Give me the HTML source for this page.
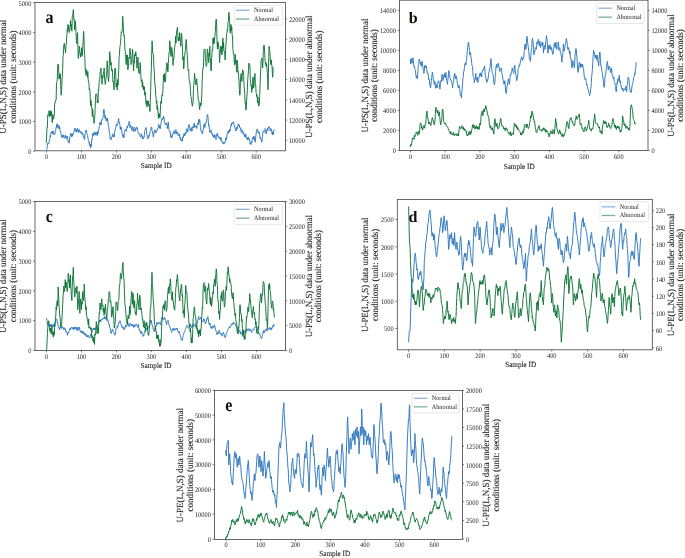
<!DOCTYPE html>
<html><head><meta charset="utf-8"><style>
html,body{margin:0;padding:0;background:#fff;width:685px;height:558px;overflow:hidden}
svg{display:block;will-change:transform}
text{font-family:"Liberation Serif", serif;fill:#262626;text-rendering:geometricPrecision}
.lb{stroke:#262626;stroke-width:0.1px}
</style></head><body>
<svg width="685" height="558" viewBox="0 0 685 558">
<clipPath id="ca"><rect x="35" y="2.5" width="250.5" height="148.3"/></clipPath>
<polyline clip-path="url(#ca)" points="46.87,149.66 47.18,146.88 47.49,143.17 47.79,143.22 48.1,143.01 48.41,143.72 48.71,144.14 49.02,142.62 49.33,139.76 49.63,139.54 49.94,138.65 50.25,135.53 50.55,136.78 50.86,134.21 51.17,131.91 51.47,132.19 51.78,132.36 52.09,131.4 52.39,134.03 52.7,131.01 53.01,131.33 53.31,131.27 53.62,131.32 53.93,134.1 54.23,134.95 54.54,134.15 54.84,134.21 55.15,132.19 55.46,131.35 55.76,130.07 56.07,127.59 56.38,128.03 56.68,124.65 56.99,123.91 57.3,123.76 57.6,127.27 57.91,125.75 58.22,125.13 58.52,128.58 58.83,128.51 59.14,128.83 59.44,125.89 59.75,127.59 60.06,130.29 60.36,131.77 60.67,131.27 60.98,133.36 61.28,135.36 61.59,135.87 61.9,137.55 62.2,134.89 62.51,136.78 62.81,136.28 63.12,135.58 63.43,134.95 63.73,137.34 64.04,138.13 64.35,137.7 64.65,138.22 64.96,136.24 65.27,134.95 65.57,137.9 65.88,138.2 66.19,138.62 66.49,138.86 66.8,136.21 67.11,136.78 67.41,136.25 67.72,138.24 68.03,141.38 68.33,141.38 68.64,140.87 68.95,143.22 69.25,142.55 69.56,139.19 69.87,136.78 70.17,136.12 70.48,134.89 70.78,133.11 71.09,135.13 71.4,135.51 71.7,136.78 72.01,133.68 72.32,136.26 72.62,134.03 72.93,134.81 73.24,133.43 73.54,133.11 73.85,132.34 74.16,131.97 74.46,130.35 74.77,128.13 75.08,130.78 75.38,129.43 75.69,129.26 76,129.39 76.3,132.19 76.61,129.93 76.92,130.74 77.22,128.51 77.53,128.13 77.84,131.4 78.14,131.27 78.45,132.75 78.76,130.01 79.06,129.43 79.37,129.83 79.67,131.17 79.98,132.19 80.29,132.69 80.59,132.75 80.9,131.27 81.21,132.7 81.51,133.73 81.82,134.03 82.13,132.47 82.43,133.09 82.74,134.95 83.05,134.48 83.35,137.24 83.66,136.78 83.97,136.84 84.27,138.92 84.58,139.54 84.89,134.95 85.19,132.71 85.5,132.19 85.81,130.56 86.11,131.72 86.42,130.35 86.73,132.73 87.03,134.19 87.34,134.95 87.64,135.56 87.95,138.08 88.26,139.54 88.56,140.61 88.87,141.85 89.18,143.22 89.48,142.16 89.79,146.18 90.1,145.06 90.4,144.04 90.71,147.78 91.02,145.98 91.32,146.06 91.63,140.18 91.94,140.46 92.24,137.83 92.55,136.97 92.86,133.11 93.16,135.78 93.47,134.11 93.78,134.95 94.08,133.01 94.39,131.83 94.7,132.19 95,135.07 95.31,132.75 95.61,134.95 95.92,134.69 96.23,132.14 96.53,133.11 96.84,133.52 97.15,135.71 97.45,134.03 97.76,131.49 98.07,133.6 98.37,131.27 98.68,129.47 98.99,129.29 99.29,125.75 99.6,125.42 99.91,122.12 100.21,122.07 100.52,124.74 100.83,123.85 101.13,124.83 101.44,121.21 101.75,119.58 102.05,120.23 102.36,119.58 102.67,118.79 102.97,118.39 103.28,114.46 103.58,110.68 103.89,109.2 104.2,110.96 104.5,113.29 104.81,116.55 105.12,118.66 105.42,115.59 105.73,118.39 106.04,120.11 106.34,121.11 106.65,120.23 106.96,117.95 107.26,120.88 107.57,118.39 107.88,121.78 108.18,125.06 108.49,125.75 108.8,127.28 109.1,130.09 109.41,133.11 109.72,134.47 110.02,138.98 110.33,138.62 110.64,139.32 110.94,138.62 111.25,139.54 111.56,138.31 111.86,136.72 112.17,136.78 112.47,134.18 112.78,133.81 113.09,134.95 113.39,137.03 113.7,135.23 114.01,136.78 114.31,136.86 114.62,132 114.93,131.27 115.23,129.01 115.54,128.86 115.85,127.59 116.15,125 116.46,124.58 116.77,123.91 117.07,125.61 117.38,124.99 117.69,122.99 117.99,122.83 118.3,120.5 118.61,118.39 118.91,121.44 119.22,122.78 119.53,122.07 119.83,124.74 120.14,127.94 120.44,129.43 120.75,126.83 121.06,129.22 121.36,127.59 121.67,129.52 121.98,132.99 122.28,134.03 122.59,135.89 122.9,135.54 123.2,137.7 123.51,134.8 123.82,137.74 124.12,134.95 124.43,131.47 124.74,131.14 125.04,129.43 125.35,129.35 125.66,129.76 125.96,131.27 126.27,131.09 126.58,130.91 126.88,127.59 127.19,126.23 127.5,127.66 127.8,126.67 128.11,124.87 128.41,125.08 128.72,123.91 129,122.07 129.27,121.15 129.64,122.91 130.01,127.59 130.38,125.18 130.74,125.75 131.11,126.3 131.48,129.43 131.79,130.29 132.09,127.58 132.4,126.67 132.71,126.66 133.01,130.91 133.32,130.35 133.63,131.61 133.93,128.29 134.24,127.59 134.55,127.23 134.85,128.69 135.16,131.27 135.47,128.85 135.77,129.35 136.08,129.43 136.38,127.02 136.69,127.05 137,127.59 137.3,127.75 137.61,130.35 137.92,131.27 138.22,133.58 138.53,133.59 138.84,133.11 139.14,133.64 139.45,134.57 139.76,135.87 140.06,136.28 140.37,135.94 140.68,136.78 140.98,135.46 141.29,133.63 141.6,134.95 141.9,134.89 142.21,138.84 142.52,137.7 142.82,136.37 143.13,138.33 143.44,138.62 143.74,137.97 144.05,137.77 144.35,134.95 144.66,131.86 144.97,130.26 145.27,129.43 145.58,127.71 145.89,127.76 146.19,127.59 146.5,129.8 146.81,134.49 147.11,134.95 147.42,137.71 147.73,139.04 148.03,138.62 148.34,135.91 148.65,135.34 148.95,136.78 149.26,136.17 149.57,135.46 149.87,132.19 150.18,131.46 150.49,131.34 150.79,130.35 151.1,127.23 151.41,128.03 151.71,127.59 152.02,130.69 152.33,131.47 152.63,131.27 152.94,134.67 153.24,137.02 153.55,136.78 153.86,134.15 154.16,132 154.47,132.19 154.78,130.05 155.08,131.06 155.39,130.35 155.7,131.46 156,132.9 156.31,131.27 156.62,131.63 156.92,130.69 157.23,129.43 157.54,129.98 157.84,128.01 158.15,127.59 158.46,127.2 158.76,124.34 159.07,125.75 159.38,127.91 159.69,126.41 160,128.51 160.31,128.82 160.61,126.08 160.92,123.91 161.23,121.82 161.53,119.82 161.84,120.23 162.15,118.53 162.45,119.61 162.76,118.39 163.07,118.96 163.37,116.07 163.68,117.47 163.99,117.12 164.29,120.65 164.6,122.07 164.9,123.36 165.21,123.42 165.52,124.83 165.82,123.31 166.13,124.66 166.44,123.91 166.74,123.29 167.05,126.1 167.36,128.51 167.66,126.19 167.97,126.24 168.28,122.07 168.58,125.47 168.89,129.28 169.2,130.35 169.5,131.16 169.81,131.02 170.12,133.11 170.42,132.91 170.73,136.97 171.04,135.87 171.34,137.38 171.65,136.24 171.96,137.7 172.26,134.37 172.57,135.24 172.87,134.03 173.18,133.87 173.49,131.83 173.79,131.27 174.1,130.81 174.41,133.23 174.71,133.11 175.02,134.06 175.33,130.07 175.63,130.35 175.94,129.52 176.25,132.09 176.55,134.03 176.86,133.06 177.17,133.6 177.47,132.19 177.78,131.78 178.09,135.33 178.39,134.95 178.7,135.69 179.01,134.35 179.31,134.03 179.62,133.96 179.93,138.55 180.23,137.7 180.54,137.49 180.84,140.34 181.15,139.54 181.46,138.97 181.76,139.54 182.07,141.38 182.38,141 182.68,137.42 182.99,136.78 183.3,137.85 183.6,134.93 183.91,134.03 184.22,133.26 184.52,134.03 184.83,135.87 185.14,134.27 185.44,134.14 185.75,132.19 186.06,133.24 186.36,128.79 186.67,129.43 186.98,129.57 187.28,129.39 187.59,131.27 187.9,132.13 188.2,127.24 188.51,127.59 188.81,125 189.12,124.43 189.43,125.75 189.73,126.81 190.04,130.57 190.35,130.35 190.65,131.12 190.96,129.53 191.27,127.59 191.57,130.7 191.88,131.33 192.19,130.35 192.49,128.37 192.8,126.51 193.11,126.67 193.41,127.67 193.72,125.91 194.03,123.91 194.33,123.08 194.64,127.09 194.95,127.59 195.25,126.44 195.56,125.81 195.87,125.75 196.17,125.93 196.48,126.13 196.78,128.51 197.09,124.79 197.4,124.47 197.7,123.91 198.01,122.64 198.32,124.69 198.62,122.07 198.93,119.5 199.24,122.27 199.54,119.31 199.85,120.78 200.16,124.2 200.46,127.59 200.77,130.23 201.08,131.46 201.38,131.27 201.69,131.89 202,131.12 202.3,134.03 202.61,132.38 202.92,130.4 203.22,129.43 203.53,129.43 203.84,124.4 204.14,123.91 204.45,124.23 204.76,127.5 205.06,126.67 205.37,123.07 205.67,123.21 205.98,122.07 206.29,122.22 206.59,120.79 206.9,118.39 207.18,114.53 207.45,114.71 207.76,115.12 208.07,117.69 208.37,122.07 208.68,126.07 208.99,125.29 209.29,128.51 209.6,130.82 209.9,132.71 210.21,132.19 210.52,130.87 210.82,129.96 211.13,130.35 211.44,133.59 211.74,133.31 212.05,134.03 212.36,133.59 212.66,136.21 212.97,135.87 213.28,135.67 213.58,136.1 213.89,137.7 214.2,134.6 214.5,136.99 214.81,134.95 215.12,138 215.42,137.99 215.73,138.62 216.04,139.65 216.34,134.69 216.65,135.87 216.96,133.77 217.26,133.92 217.57,133.11 217.88,136.34 218.18,137.56 218.49,136.78 218.79,136.9 219.1,136.92 219.41,138.62 219.71,138.01 220.02,137.98 220.33,137.7 220.63,140.2 220.94,137.54 221.25,139.54 221.55,141.49 221.86,141.82 222.17,141.38 222.47,143.11 222.78,143.2 223.09,142.3 223.39,143.39 223.7,142.77 224.01,144.14 224.31,142.73 224.62,142.31 224.93,142.3 225.23,142.63 225.54,138.61 225.85,139.54 226.15,137.6 226.46,139.43 226.76,137.7 227.07,135.37 227.38,133.34 227.68,134.03 227.99,131.36 228.3,133.03 228.6,132.19 228.91,130.5 229.22,132.46 229.52,129.43 229.83,130.81 230.14,130.96 230.44,128.51 230.75,126.55 231.06,124.84 231.36,125.75 231.67,123.05 231.98,123.9 232.28,122.99 232.59,123.61 232.9,122.14 233.2,122.07 233.51,121.82 233.82,123.54 234.12,124.83 234.43,126.28 234.73,127.44 235.04,127.59 235.35,129.6 235.65,130.95 235.96,130.35 236.27,130.46 236.57,127.45 236.88,128.51 237.19,129.09 237.49,125.76 237.8,125.75 238.11,125.43 238.41,123.96 238.72,123.91 239.03,126.18 239.33,125.04 239.64,127.59 239.95,127.09 240.25,127.69 240.56,129.43 240.87,128.52 241.17,132.34 241.48,131.27 241.79,131.31 242.09,129.89 242.4,130.35 242.7,130.5 243.01,133.74 243.32,132.19 243.62,133.45 243.93,133.46 244.24,135.87 244.54,136.61 244.85,135.31 245.16,134.03 245.46,137.11 245.77,134.12 246.08,136.78 246.38,136.98 246.69,138.8 247,137.7 247.3,139.51 247.61,140.14 247.92,138.62 248.22,136.91 248.53,138.33 248.84,139.54 249.14,138.48 249.45,139.4 249.76,141.38 250.06,144.08 250.37,142.98 250.68,143.22 250.98,144.5 251.29,141.43 251.59,141.38 251.9,142.38 252.21,139.93 252.51,139.54 252.82,137.57 253.13,138.93 253.43,136.78 253.74,139.36 254.05,136.28 254.35,138.62 254.66,140.27 254.97,141.6 255.27,142.3 255.58,137.99 255.89,135.59 256.19,133.11 256.5,130.3 256.81,129.35 257.11,129.43 257.42,129.27 257.73,131.7 258.03,132.19 258.34,133.16 258.65,131.5 258.95,133.11 259.26,132.18 259.56,134.8 259.87,136.78 260.18,138.49 260.48,137.24 260.79,139.54 261.1,139.64 261.4,140.08 261.71,142.3 262.02,141.15 262.32,137.61 262.63,134.95 262.94,131.8 263.24,130.74 263.55,131.27 263.86,131.11 264.16,132.1 264.47,132.19 264.78,131.88 265.08,128.55 265.39,129.43 265.7,129.48 266,133.35 266.31,134.03 266.62,132.1 266.92,130.01 267.23,129.43 267.53,128.27 267.84,130.81 268.15,128.51 268.45,127.07 268.76,127.57 269.07,126.67 269.37,126.96 269.68,128.14 269.99,129.43 270.29,130.72 270.6,131 270.91,128.51 271.21,129.14 271.52,129.63 271.83,132.19 272.13,134.11 272.44,132.72 272.75,134.95 273.05,131.55 273.36,134.26 273.67,131.27 274.03,130.01 274.4,129.43" fill="none" stroke="#2f78bd" stroke-width="0.95" stroke-linejoin="round"/>
<polyline clip-path="url(#ca)" points="46.24,142.86 46.63,135.03 47.01,127.24 47.39,127.53 47.77,114.87 48.15,114.29 48.48,115.26 48.8,113.76 49.13,110.61 49.46,116.55 49.78,117.01 50.12,111.12 50.46,115.53 50.8,110.82 51.14,115.65 51.48,111.76 51.82,116.78 52.16,122.63 52.5,119.73 52.84,114.53 53.18,115.05 53.52,119.22 53.86,117.01 54.27,115.58 54.68,103.4 55.04,103.42 55.41,100.35 55.77,100.68 56.13,100.05 56.49,82.54 56.86,81.63 57.22,80.04 57.58,67.32 57.95,63.95 58.31,64.67 58.67,69.34 59.03,78.91 59.4,74.8 59.76,79.08 60.12,73.47 60.49,76.89 60.85,88.96 61.21,95.24 61.57,90.56 61.94,81.01 62.3,76.19 62.66,69.51 63.02,56.43 63.39,54.42 63.75,45.51 64.11,43.64 64.48,43.54 64.84,48.88 65.2,49.02 65.56,53.06 65.93,45.84 66.29,44.11 66.65,38.1 66.99,34.13 67.33,28.89 67.67,31.42 68.01,24.49 68.35,28.92 68.69,25.5 69.03,31.51 69.37,32.65 69.74,28.87 70.1,28.99 70.46,20.41 70.83,26.34 71.19,24.21 71.55,29.93 71.91,31.16 72.28,16.28 72.64,16.33 73.05,11.94 73.46,9.52 73.82,19.41 74.18,18.95 74.54,29.93 74.91,27.99 75.27,20.77 75.63,24.49 76,32.86 76.36,40.36 76.72,43.54 77.13,38.97 77.54,32.65 77.95,50.08 78.35,58.5 78.72,52.19 79.08,52.68 79.44,46.26 79.8,51.02 80.17,54.47 80.53,57.14 80.89,53.44 81.26,54.87 81.62,47.62 82.03,56.36 82.44,54.42 82.8,46.4 83.16,40.97 83.52,31.29 83.89,33.73 84.25,49.13 84.61,54.42 84.98,61.63 85.34,71.22 85.7,70.75 86.04,75.29 86.38,69.52 86.72,71.42 87.06,73.47 87.42,77.31 87.79,71.37 88.15,78.91 88.51,82.08 88.88,82.18 89.24,89.8 89.6,88.83 89.96,91.76 90.33,100.68 90.67,105.94 91.01,100.31 91.35,103.77 91.69,108.84 92.01,109.17 92.34,116.57 92.67,108.71 92.99,114.76 93.32,117.01 93.68,118.51 94.05,123.42 94.41,119.73 94.77,116.3 95.13,109.58 95.5,97.96 95.86,93.94 96.22,94.22 96.59,93.88 96.95,94.45 97.31,103.02 97.67,100.68 98.04,102.54 98.4,89.24 98.76,89.8 99.12,82.28 99.49,79.32 99.85,78.91 100.21,72.08 100.58,71.47 100.94,68.03 101.3,74.54 101.66,76.06 102.03,84.35 102.39,75.68 102.75,77.94 103.12,76.19 103.48,71.9 103.84,71.54 104.2,68.03 104.57,78.91 104.93,81.2 105.29,84.35 105.66,80.91 106.02,78.51 106.38,73.47 106.74,71.96 107.11,60.86 107.47,62.59 107.83,73.73 108.2,78.64 108.56,81.63 108.92,76.15 109.28,65.25 109.65,51.7 110.01,54.94 110.37,59.56 110.73,65.31 111.1,62.36 111.46,70.55 111.82,70.75 112.19,69.12 112.55,72.81 112.91,81.63 113.27,80.86 113.64,83.02 114,89.8 114.36,80.62 114.73,69.91 115.09,68.03 115.45,68.38 115.81,76.54 116.18,87.07 116.54,83.2 116.9,87.25 117.27,89.8 117.63,79.57 117.99,85.22 118.35,76.19 118.72,70.3 119.08,57.46 119.44,54.42 119.8,47.82 120.17,45.33 120.53,43.54 120.89,38.28 121.26,31.76 121.62,32.65 121.98,31.4 122.34,27.69 122.71,16.33 123.07,22.27 123.43,28.83 123.8,35.37 124.16,34.94 124.52,39.67 124.88,48.98 125.25,51.63 125.61,55.23 125.97,62.59 126.34,64.72 126.7,54.89 127.06,57.14 127.42,55.05 127.79,69.81 128.15,68.03 128.51,65.19 128.88,57.44 129.24,58.5 129.6,56.75 129.96,48.29 130.33,51.7 130.69,55.67 131.05,64.7 131.41,62.59 131.78,62.41 132.14,55.87 132.5,48.98 132.87,53.37 133.23,61.89 133.59,70.75 133.95,61.31 134.32,63.13 134.68,54.42 135.04,53.91 135.41,55.96 135.77,51.7 136.13,55.1 136.49,59.26 136.86,68.03 137.22,68.14 137.58,66.59 137.95,57.14 138.31,66.82 138.67,71.7 139.03,73.47 139.4,73.66 139.76,69.09 140.12,62.59 140.49,65.66 140.85,75.5 141.21,81.63 141.57,81.71 141.94,79.61 142.3,87.07 142.66,82.32 143.02,86.24 143.39,89.8 143.75,86 144.11,90.29 144.48,87.07 144.84,95.27 145.2,91.88 145.56,95.24 145.93,102.3 146.29,104.72 146.65,100.68 147.02,107.05 147.38,100.87 147.74,103.4 148.1,100.95 148.47,101.94 148.83,106.12 149.19,104.3 149.56,106.2 149.92,111.56 150.28,101.26 150.64,92.79 151.01,76.19 151.37,68.48 151.73,52.36 152.1,40.82 152.46,47.19 152.82,53.48 153.18,54.42 153.55,54.88 153.91,67.23 154.27,70.75 154.63,81.11 155,85.02 155.36,87.07 155.72,95.52 156.09,97.7 156.45,103.4 156.79,100.9 157.13,109.59 157.47,105.47 157.81,108.84 158.15,114.49 158.49,118.59 158.83,113.72 159.17,117.01 159.54,113.56 159.9,117.83 160.27,112.9 160.63,103.98 161,101.19 161.36,103.4 161.77,95.13 162.18,95.24 162.54,95.56 162.9,89.85 163.27,81.63 163.63,74.67 163.99,80.11 164.35,73.47 164.72,81.95 165.08,80.8 165.44,81.63 165.8,74.4 166.17,71.33 166.53,65.31 166.89,62.69 167.26,63.11 167.62,70.75 167.98,71.86 168.34,63.47 168.71,57.14 169.07,52.02 169.43,51.46 169.8,40.82 170.16,44.56 170.52,54.35 170.88,54.42 171.25,56.52 171.61,47.33 171.97,48.98 172.34,51.44 172.7,57.38 173.06,65.31 173.42,58.56 173.79,59.09 174.15,54.42 174.51,47.91 174.88,46.19 175.24,43.54 175.6,36.39 175.96,43.02 176.33,35.37 176.69,30.9 177.05,29.43 177.41,27.21 177.78,32.75 178.14,41.13 178.5,40.82 178.87,37.14 179.23,40.39 179.59,32.65 179.95,37.21 180.32,42.11 180.68,46.26 181.04,42.91 181.41,33.23 181.77,35.37 182.13,42.82 182.49,47.9 182.86,59.86 183.22,56.63 183.58,68.9 183.95,68.03 184.31,58.65 184.67,56.82 185.03,51.7 185.4,50.32 185.76,44.22 186.12,39.46 186.49,42.36 186.85,49.65 187.21,54.42 187.57,60.53 187.94,68.72 188.3,70.75 188.66,69.65 189.02,78.73 189.39,81.63 189.75,81.34 190.11,84.4 190.48,89.8 190.84,96.69 191.2,97.14 191.56,100.68 191.97,104.14 192.38,106.12 192.74,103.8 193.11,100.19 193.47,89.8 193.83,83.67 194.2,80.26 194.56,73.47 194.92,77.16 195.28,80.87 195.65,84.35 196.01,84.85 196.37,80.15 196.73,78.91 197.1,83.85 197.46,87.72 197.82,92.52 198.19,100.54 198.55,100.35 198.91,100.68 199.27,107.01 199.64,109.61 200,106.12 200.36,102.78 200.73,105.93 201.09,104.76 201.45,102.37 201.81,93.42 202.18,81.63 202.54,72.74 202.9,68.02 203.27,68.03 203.63,60.98 203.99,50.2 204.35,48.98 204.72,49.04 205.08,50.21 205.44,58.5 205.8,62.8 206.17,66.45 206.53,65.31 206.89,64.63 207.26,50.28 207.62,48.98 207.98,56.11 208.34,59.97 208.71,62.59 209.07,52.86 209.43,56.29 209.8,46.26 210.16,60.03 210.52,59.22 210.88,70.75 211.25,70.74 211.61,58.64 211.97,54.42 212.34,48.83 212.7,49.42 213.06,38.1 213.42,43.9 213.79,37.66 214.15,43.54 214.51,39.09 214.88,36.47 215.24,32.65 215.6,26.19 215.96,19.93 216.33,19.05 216.69,26.85 217.05,41.67 217.41,48.98 217.78,41.4 218.14,46 218.5,43.54 218.87,49.17 219.23,50.45 219.59,62.59 219.95,55.12 220.32,53.19 220.68,46.26 221.04,49.13 221.41,46.47 221.77,54.42 222.13,54.8 222.49,47 222.86,38.1 223.22,48.29 223.58,42.42 223.95,51.7 224.31,51.61 224.67,51.62 225.03,59.86 225.4,57.77 225.76,46.22 226.12,43.54 226.49,34.56 226.85,33.53 227.21,29.93 227.62,30.79 228.03,21.77 228.44,20.83 228.84,12.24 229.21,15.24 229.57,19.83 229.93,29.93 230.29,33.15 230.66,27.15 231.02,24.49 231.38,30.52 231.75,26.82 232.11,35.37 232.47,35.51 232.83,48.52 233.2,51.7 233.56,54.43 233.92,53.83 234.29,62.59 234.65,65.12 235.01,58.76 235.37,54.42 235.74,63.48 236.1,60.31 236.46,70.75 236.83,72.3 237.19,60.11 237.55,62.59 237.91,71.47 238.28,71.1 238.64,76.19 239,80.61 239.37,89.53 239.73,95.24 240.09,94.01 240.45,79.75 240.82,76.19 241.18,73.56 241.54,80.14 241.9,81.63 242.27,74.87 242.63,69.69 242.99,70.75 243.36,72.13 243.72,76.24 244.08,87.07 244.44,88.94 244.81,95.7 245.17,103.4 245.53,102.88 245.9,110.14 246.26,108.84 246.62,99.97 246.98,96.15 247.35,89.8 247.71,79.58 248.07,75.26 248.44,70.75 248.8,63.15 249.16,64.13 249.52,65.31 249.89,64.93 250.25,78.99 250.61,81.63 250.98,85.87 251.34,85.16 251.7,92.52 252.06,87.68 252.43,88.66 252.79,78.91 253.15,76.91 253.51,88.18 253.88,87.07 254.24,81.73 254.6,77.94 254.97,73.47 255.33,83.83 255.69,84.88 256.05,92.52 256.42,93.5 256.78,96.58 257.14,95.24 257.51,102.84 257.87,96.98 258.23,100.68 258.59,106.03 258.96,105.88 259.32,104.76 259.68,96.87 260.05,84.57 260.41,76.19 260.77,68.92 261.13,59.96 261.5,59.86 261.86,58.14 262.22,60.15 262.59,68.03 262.95,63.66 263.31,50.58 263.67,46.26 264.04,44.94 264.4,46.71 264.76,54.42 265.12,61.24 265.49,64.31 265.85,62.59 266.21,66.45 266.58,63.6 266.94,68.03 267.3,72.19 267.66,80.06 268.03,89.8 268.39,74.8 268.75,56.66 269.12,46.26 269.48,49.24 269.84,50.67 270.2,57.14 270.57,63.59 270.93,64.63 271.29,59.86 271.66,64.96 272.02,65.87 272.38,73.47 272.74,77.24 273.11,67.56 273.47,68.03" fill="none" stroke="#0f7438" stroke-width="0.95" stroke-linejoin="round"/>
<rect x="35" y="2.5" width="250.5" height="148.3" fill="none" stroke="#444444" stroke-width="0.8"/>
<line x1="46.6" y1="150.8" x2="46.6" y2="152.6" stroke="#444444" stroke-width="0.7"/>
<text transform="translate(46.6,158.8) scale(1,1.1)" text-anchor="middle" font-size="6.4">0</text>
<line x1="81.53" y1="150.8" x2="81.53" y2="152.6" stroke="#444444" stroke-width="0.7"/>
<text transform="translate(81.53,158.8) scale(1,1.1)" text-anchor="middle" font-size="6.4">100</text>
<line x1="116.46" y1="150.8" x2="116.46" y2="152.6" stroke="#444444" stroke-width="0.7"/>
<text transform="translate(116.46,158.8) scale(1,1.1)" text-anchor="middle" font-size="6.4">200</text>
<line x1="151.39" y1="150.8" x2="151.39" y2="152.6" stroke="#444444" stroke-width="0.7"/>
<text transform="translate(151.39,158.8) scale(1,1.1)" text-anchor="middle" font-size="6.4">300</text>
<line x1="186.32" y1="150.8" x2="186.32" y2="152.6" stroke="#444444" stroke-width="0.7"/>
<text transform="translate(186.32,158.8) scale(1,1.1)" text-anchor="middle" font-size="6.4">400</text>
<line x1="221.25" y1="150.8" x2="221.25" y2="152.6" stroke="#444444" stroke-width="0.7"/>
<text transform="translate(221.25,158.8) scale(1,1.1)" text-anchor="middle" font-size="6.4">500</text>
<line x1="256.18" y1="150.8" x2="256.18" y2="152.6" stroke="#444444" stroke-width="0.7"/>
<text transform="translate(256.18,158.8) scale(1,1.1)" text-anchor="middle" font-size="6.4">600</text>
<line x1="33.1" y1="151.2" x2="35" y2="151.2" stroke="#444444" stroke-width="0.7"/>
<text transform="translate(31.4,154) scale(1,1.1)" text-anchor="end" font-size="6.4">0</text>
<line x1="33.1" y1="121.5" x2="35" y2="121.5" stroke="#444444" stroke-width="0.7"/>
<text transform="translate(31.4,124.3) scale(1,1.1)" text-anchor="end" font-size="6.4">1000</text>
<line x1="33.1" y1="91.8" x2="35" y2="91.8" stroke="#444444" stroke-width="0.7"/>
<text transform="translate(31.4,94.6) scale(1,1.1)" text-anchor="end" font-size="6.4">2000</text>
<line x1="33.1" y1="62.1" x2="35" y2="62.1" stroke="#444444" stroke-width="0.7"/>
<text transform="translate(31.4,64.9) scale(1,1.1)" text-anchor="end" font-size="6.4">3000</text>
<line x1="33.1" y1="32.4" x2="35" y2="32.4" stroke="#444444" stroke-width="0.7"/>
<text transform="translate(31.4,35.2) scale(1,1.1)" text-anchor="end" font-size="6.4">4000</text>
<line x1="33.1" y1="2.7" x2="35" y2="2.7" stroke="#444444" stroke-width="0.7"/>
<text transform="translate(31.4,5.5) scale(1,1.1)" text-anchor="end" font-size="6.4">5000</text>
<line x1="285.5" y1="140.3" x2="287.1" y2="140.3" stroke="#444444" stroke-width="0.7"/>
<text transform="translate(288.9,143.1) scale(1,1.1)" font-size="6.4">10000</text>
<line x1="285.5" y1="120.08" x2="287.1" y2="120.08" stroke="#444444" stroke-width="0.7"/>
<text transform="translate(288.9,122.88) scale(1,1.1)" font-size="6.4">12000</text>
<line x1="285.5" y1="99.86" x2="287.1" y2="99.86" stroke="#444444" stroke-width="0.7"/>
<text transform="translate(288.9,102.66) scale(1,1.1)" font-size="6.4">14000</text>
<line x1="285.5" y1="79.64" x2="287.1" y2="79.64" stroke="#444444" stroke-width="0.7"/>
<text transform="translate(288.9,82.44) scale(1,1.1)" font-size="6.4">16000</text>
<line x1="285.5" y1="59.42" x2="287.1" y2="59.42" stroke="#444444" stroke-width="0.7"/>
<text transform="translate(288.9,62.22) scale(1,1.1)" font-size="6.4">18000</text>
<line x1="285.5" y1="39.2" x2="287.1" y2="39.2" stroke="#444444" stroke-width="0.7"/>
<text transform="translate(288.9,42) scale(1,1.1)" font-size="6.4">20000</text>
<line x1="285.5" y1="18.98" x2="287.1" y2="18.98" stroke="#444444" stroke-width="0.7"/>
<text transform="translate(288.9,21.78) scale(1,1.1)" font-size="6.4">22000</text>
<text transform="translate(6.2,76.75) rotate(-90) scale(1,1.05)" class="lb" text-anchor="middle" font-size="8.95">U-PS(L,N,S) data under normal</text>
<text transform="translate(15.6,76.75) rotate(-90) scale(1,1.05)" class="lb" text-anchor="middle" font-size="8.95">conditions (unit: seconds)</text>
<text transform="translate(312.3,76.75) rotate(-90) scale(1,1.05)" class="lb" text-anchor="middle" font-size="8.95">U-PS(L,N,S) data under abnormal</text>
<text transform="translate(321.7,76.75) rotate(-90) scale(1,1.05)" class="lb" text-anchor="middle" font-size="8.95">conditions (unit: seconds)</text>
<text transform="translate(156.2,168.4) scale(1,1.1)" text-anchor="middle" font-size="7.2" class="lb">Sample ID</text>
<rect x="234.2" y="5.3" width="48.1" height="19.9" rx="1.2" fill="#fff" fill-opacity="0.8" stroke="#d8d8d8" stroke-width="0.6"/>
<line x1="236" y1="10.27" x2="249.5" y2="10.27" stroke="#2f78bd" stroke-width="1.3" stroke-opacity="0.55"/>
<line x1="236" y1="19.03" x2="249.5" y2="19.03" stroke="#0f7438" stroke-width="1.3" stroke-opacity="0.55"/>
<text transform="translate(254,12.17) scale(1,1.1)" font-size="6.2">Normal</text>
<text transform="translate(254,20.93) scale(1,1.1)" font-size="6.2">Abnormal</text>
<text transform="translate(45.6,22.8) scale(1,1.13)" font-size="16" font-weight="bold" style="fill:#150b0b">a</text>
<clipPath id="cb"><rect x="399.5" y="0.2" width="248.5" height="150.3"/></clipPath>
<polyline clip-path="url(#cb)" points="410.12,59.54 410.39,59.22 410.67,64.14 411.04,60.9 411.4,58.62 411.77,60.57 412.14,63.22 412.51,61.99 412.87,57.7 413.24,60.53 413.61,65.06 413.98,66.67 414.35,65.98 414.71,68.03 415.08,69.66 415.45,70.37 415.82,74.26 416.19,77.67 416.55,77.02 416.92,75.65 417.29,78.86 417.66,76.05 418.02,69.66 418.39,64.6 418.76,63.22 419.13,59.05 419.5,60.46 419.86,60.63 420.23,64.14 420.6,64.69 420.97,62.3 421.34,66.36 421.7,65.06 422.07,61.37 422.44,63.22 422.81,66.39 423.17,69.66 423.54,71.45 423.91,73.34 424.28,71.32 424.65,65.98 425.01,65.13 425.38,67.82 425.75,66.87 426.12,65.98 426.49,66.96 426.85,69.66 427.22,73.36 427.59,73.34 427.96,72.92 428.32,75.18 428.69,79.5 429.06,78.86 429.43,80.86 429.8,85.29 430.16,85.08 430.53,88.05 430.9,85.49 431.27,80.7 431.64,77.93 432,75.18 432.37,72.07 432.74,73.34 433.11,77.78 433.47,80.7 433.84,80.19 434.21,84.37 434.58,84.61 434.95,81.61 435.31,85.94 435.68,88.05 436.05,87.82 436.42,84.37 436.78,86.93 437.15,88.05 437.52,84.48 437.89,82.53 438.26,81.06 438.62,80.7 438.99,81.94 439.36,84.37 439.73,88.86 440.1,88.97 440.46,82.52 440.83,80.7 441.2,81.95 441.57,78.86 441.93,74.36 442.3,75.18 442.67,76.29 443.04,80.7 443.41,76.61 443.77,75.18 444.14,76.5 444.51,73.34 444.88,75.64 445.25,77.94 445.61,74.5 445.98,72.42 446.35,78.71 446.72,80.7 447.08,81.04 447.45,84.37 447.82,80.48 448.19,77.02 448.56,73.97 448.92,70.58 449.29,74.3 449.66,75.18 450.03,78.43 450.4,78.86 450.76,80.59 451.13,80.7 451.5,80.77 451.87,82.53 452.23,84.32 452.6,88.05 452.97,83.36 453.34,82.53 453.71,80.78 454.07,75.18 454.44,75.17 454.81,73.34 455.18,77.45 455.55,78.86 455.91,75.63 456.28,76.1 456.65,78.05 457.02,80.7 457.38,84.07 457.75,84.37 458.12,86.66 458.49,88.05 458.86,85.04 459.22,86.21 459.59,88.3 459.96,90.81 460.33,95.27 460.7,95.41 461.06,95.32 461.43,98.17 461.8,92.3 462.17,89.89 462.53,83.26 462.9,78.86 463.27,76.32 463.64,71.5 464.01,71.58 464.37,67.82 464.74,64.05 465.11,64.14 465.48,62.68 465.85,65.06 466.21,61.35 466.58,60.46 466.95,54.89 467.32,51.27 467.68,47.71 468.05,43.91 468.42,42.07 468.79,42.93 469.16,47.59 469.52,50.3 469.89,54.95 470.26,52.29 470.63,53.11 471,58.53 471.36,58.62 471.73,63.58 472.1,65.98 472.47,66.51 472.83,71.5 473.2,76.85 473.57,77.02 473.94,77.54 474.31,82.53 474.67,80.05 475.04,78.86 475.41,78.81 475.78,73.34 476.14,78.67 476.51,80.7 476.88,80.16 477.25,77.02 477.62,79.41 477.98,82.53 478.35,78.99 478.72,78.86 479.09,77.79 479.46,75.18 479.82,73.44 480.19,76.1 480.56,73.07 480.93,73.34 481.29,74.55 481.66,77.02 482.03,71.65 482.4,71.5 482.77,70.01 483.13,69.66 483.5,70.37 483.87,67.82 484.24,67.98 484.61,65.98 484.97,70.58 485.34,75.18 485.71,77.76 486.08,78.86 486.44,80.49 486.81,82.53 487.18,79.61 487.55,80.7 487.92,79.44 488.28,77.02 488.65,73.72 489.02,71.5 489.39,71.01 489.76,67.82 490.12,67.35 490.49,62.3 490.77,60.07 491.04,58.62 491.32,62.72 491.59,65.98 491.96,71.05 492.33,73.34 492.7,73.82 493.07,75.18 493.43,77.34 493.8,82.53 494.17,84.7 494.54,84.37 494.91,81.9 495.27,75.18 495.64,72.11 496.01,65.98 496.38,66.18 496.74,64.14 497.11,67.95 497.48,67.82 497.85,66.53 498.22,63.22 498.58,65.39 498.95,65.98 499.32,68.48 499.69,71.5 500.06,69.53 500.42,69.66 500.79,69.46 501.16,67.82 501.53,68.33 501.89,73.34 502.26,74.73 502.63,77.02 503,80.44 503.37,80.7 503.73,83.73 504.1,84.37 504.47,83.26 504.84,80.7 505.21,84.81 505.57,91.73 505.94,92.22 506.31,93.57 506.68,89.64 507.04,86.21 507.41,85.05 507.78,82.53 508.15,80.19 508.52,78.86 508.88,82.6 509.25,84.37 509.62,83.1 509.99,77.02 510.35,74.32 510.72,75.18 511.09,74.2 511.46,71.5 511.83,71.22 512.19,67.82 512.56,69.04 512.93,71.5 513.3,72.36 513.67,73.34 514.03,72.32 514.4,65.98 514.77,65.23 515.14,69.66 515.5,72.66 515.87,75.18 516.24,76.04 516.61,80.7 516.98,80.43 517.34,77.02 517.71,75.81 518.08,69.66 518.45,68.85 518.82,67.82 519.18,64.67 519.55,65.98 519.92,64.56 520.29,62.3 520.65,60.69 521.02,58.62 521.39,58.92 521.76,56.78 522.13,58.69 522.49,60.46 522.86,60.32 523.23,58.62 523.6,58.63 523.97,54.95 524.33,50.47 524.7,45.75 525.07,44.33 525.44,43.91 525.84,49.43 526.21,46.42 526.57,38.39 526.94,36.31 527.31,37.47 527.68,42.64 528.05,45.75 528.41,47.91 528.78,51.27 529.15,56.42 529.52,58.62 529.89,57.89 530.25,61.38 530.62,59.96 530.99,53.11 531.36,49.54 531.72,47.59 532.09,40.51 532.46,38.39 532.83,39.89 533.2,43.91 533.56,48.87 533.93,54.95 534.3,50.84 534.67,52.19 535.04,49.43 535.4,47.59 535.77,48.06 536.14,49.43 536.51,46.86 536.87,42.07 537.24,42.16 537.61,43.91 537.98,40.3 538.35,39.31 538.71,40.99 539.08,45.75 539.45,44.8 539.82,41.15 540.19,46.83 540.55,47.59 540.92,45.44 541.29,42.99 541.66,42.8 542.02,45.75 542.39,45.6 542.76,42.07 543.13,46.98 543.5,53.11 543.86,47.82 544.23,45.75 544.6,45.51 544.97,49.43 545.34,47.3 545.7,42.07 546.07,40.59 546.44,35.63 546.81,38.68 547.17,40.23 547.54,46.5 547.91,53.11 548.28,49.78 548.65,45.75 549.01,45.59 549.38,48.51 549.75,49.27 550.12,44.83 550.49,46.31 550.85,49.43 551.22,49.29 551.59,47.59 551.96,51.21 552.32,51.27 552.69,54.42 553.06,54.03 553.43,50.63 553.8,47.59 554.16,44.14 554.53,42.99 554.9,45.56 555.27,47.59 555.64,42.73 556,42.07 556.37,47.62 556.74,49.43 557.11,47.24 557.47,46.67 557.84,46.33 558.21,42.07 558.58,44.91 558.95,50.35 559.31,48.27 559.68,47.59 560.05,48.97 560.42,53.11 560.78,53.61 561.15,54.95 561.52,56.87 561.89,62.3 562.26,56.76 562.62,56.78 562.99,51.59 563.36,43.91 563.73,46.36 564.1,51.27 564.46,48 564.83,47.59 565.2,44.64 565.57,43.91 565.93,41.04 566.3,38.39 566.67,39.83 567.04,42.07 567.41,46.52 567.77,49.43 568.14,49.4 568.51,47.59 568.88,49.12 569.25,52.19 569.61,54.13 569.98,51.27 570.35,56.93 570.72,58.62 571.08,58.9 571.45,64.14 571.82,67.82 572.19,67.82 572.56,66.41 572.92,60.46 573.29,64.35 573.66,65.06 574.03,64.43 574.4,67.82 574.76,62.78 575.13,54.03 575.5,52.01 575.87,48.51 576.23,49.01 576.6,54.95 576.97,56.81 577.34,64.14 577.71,70.81 578.07,72.42 578.44,70.07 578.81,65.98 579.18,62.74 579.55,62.3 579.91,62.83 580.28,67.82 580.65,63.98 581.02,64.14 581.38,64.03 581.75,66.9 582.12,67.07 582.49,64.14 582.86,65.58 583.22,68.74 583.59,69.09 583.96,73.34 584.33,77.44 584.7,77.02 585.06,79.57 585.43,78.86 585.8,78.38 586.17,81.61 586.53,85.18 586.9,84.37 587.27,85.9 587.64,86.21 588.01,89.63 588.37,89.89 588.74,92.21 589.11,92.65 589.48,95.78 589.85,94.49 590.21,93.8 590.58,89.89 590.95,88.11 591.32,82.53 591.68,76.24 592.05,73.34 592.42,68.9 592.79,62.3 593.16,56.5 593.52,50.35 593.89,52.62 594.26,52.19 594.63,54.14 595,56.78 595.36,58.01 595.73,54.95 596.1,57.55 596.47,59.54 596.83,55.93 597.2,54.95 597.57,57.14 597.94,62.3 598.31,62.12 598.67,65.98 599.04,60.42 599.41,54.95 599.78,52.01 600.14,54.03 600.51,59.82 600.88,65.98 601.25,65.83 601.62,69.66 601.98,71.45 602.35,73.34 602.72,76.09 603.09,78.86 603.46,82.76 603.82,86.21 604.19,87.33 604.56,84.37 604.93,77.01 605.29,75.18 605.66,75.25 606.03,71.5 606.4,67.64 606.77,64.14 607.13,63.11 607.5,61.38 607.87,66.45 608.24,69.66 608.61,69.73 608.97,65.98 609.34,66.2 609.71,67.82 610.08,69.66 610.44,72.42 610.81,72.7 611.18,67.82 611.55,68.2 611.92,73.34 612.28,75.03 612.65,75.18 613.02,77.78 613.39,78.86 613.76,77.14 614.12,80.7 614.49,82.23 614.86,82.53 615.23,85.4 615.59,86.21 615.96,91.39 616.33,91.73 616.7,86.18 617.07,82.53 617.43,83.39 617.8,78.86 618.17,79.84 618.54,80.7 618.91,77.85 619.27,75.18 619.64,81.08 620.01,82.53 620.38,80.84 620.74,84.37 621.11,86.52 621.48,86.21 621.85,88.75 622.22,89.89 622.58,88.07 622.95,88.05 623.32,91.46 623.69,90.81 624.06,89.14 624.42,88.97 624.79,89.29 625.16,89.89 625.53,88.2 625.89,86.21 626.26,90.49 626.63,91.73 627,86.43 627.37,84.37 627.73,80.33 628.1,77.02 628.47,77.5 628.84,78.86 629.21,81.92 629.57,84.37 629.94,89.88 630.31,91.73 630.68,91.03 631.04,92.65 631.41,92.19 631.78,88.05 632.15,85.67 632.52,84.37 632.88,82.56 633.25,80.7 633.62,77.58 633.99,77.02 634.35,75.21 634.72,73.34 635.09,74.16 635.46,69.66 635.83,66.85 636.19,62.3" fill="none" stroke="#2f78bd" stroke-width="0.95" stroke-linejoin="round"/>
<polyline clip-path="url(#cb)" points="410.12,146.1 410.42,146.89 410.73,144.46 411.04,144.26 411.34,145.33 411.65,142.86 411.96,142.42 412.26,139.71 412.57,137.83 412.87,138.74 413.18,138.66 413.49,138.75 413.79,137.82 414.1,139.32 414.41,135.4 414.71,136.9 415.02,136.52 415.33,134.49 415.63,134.14 415.94,133.86 416.25,131.97 416.55,133.22 416.86,132.58 417.17,133.93 417.47,134.14 417.78,135.4 418.09,131.19 418.39,132.3 418.7,132.57 419.01,134.26 419.31,133.22 419.59,132.06 419.86,126.78 420.23,123.61 420.6,123.11 420.97,122.84 421.34,125.87 421.7,128.27 422.07,126.78 422.44,130.26 422.81,129.54 423.17,128.55 423.54,127.7 423.91,125.28 424.28,126.78 424.65,128.2 425.01,125.87 425.38,123.99 425.75,123.11 426.12,119.37 426.49,112.07 426.76,112.14 427.04,111.15 427.31,115.8 427.59,117.59 427.96,117.93 428.32,121.27 428.69,123.9 429.06,124.03 429.43,121.88 429.8,122.19 430.16,123.15 430.53,124.95 430.9,125.55 431.27,123.11 431.64,122.26 432,118.51 432.37,117.57 432.74,119.43 433.11,119.57 433.47,122.19 433.84,123.13 434.21,124.95 434.58,123.19 434.95,121.27 435.31,114.32 435.68,108.39 436.05,107.19 436.42,109.31 436.78,110.04 437.15,112.99 437.52,112.6 437.89,110.23 438.26,114.74 438.62,115.75 438.99,111.89 439.36,112.07 439.73,116.48 440.1,120.35 440.46,123.78 440.83,124.95 441.2,121.07 441.57,121.27 441.93,117.24 442.3,110.23 442.67,109.01 443.04,111.15 443.41,116.65 443.77,121.27 444.14,122.87 444.51,124.03 444.88,124.13 445.25,123.11 445.61,123.17 445.98,124.95 446.35,125.05 446.72,125.87 447.08,126.69 447.45,126.78 447.82,127.38 448.19,128.62 448.56,130.24 448.92,130.46 449.29,131.15 449.66,132.3 450.03,132.95 450.4,134.14 450.76,131.59 451.13,133.22 451.5,134.21 451.87,134.14 452.23,134.56 452.6,135.06 452.97,132.52 453.34,132.3 453.71,134.84 454.07,135.06 454.44,135.83 454.81,134.14 455.18,134.42 455.55,135.06 455.91,133.65 456.28,135.06 456.65,135.4 457.02,135.98 457.38,133.79 457.75,135.06 458.12,133.89 458.49,135.98 458.86,132 459.22,128.62 459.59,126.37 459.96,127.7 460.33,127.91 460.7,128.62 461.06,127.75 461.43,126.78 461.8,125.68 462.17,128.62 462.53,128.76 462.9,127.7 463.27,126.79 463.64,129.54 464.01,130.11 464.37,128.62 464.74,130.31 465.11,129.54 465.48,130.51 465.85,131.38 466.21,130.8 466.58,134.14 466.95,135.08 467.32,135.98 467.68,134.52 468.05,134.14 468.42,135.21 468.79,132.3 469.16,131.62 469.52,134.14 469.89,134.33 470.26,131.38 470.63,134.49 471,133.22 471.36,132.4 471.73,129.54 472.1,128.63 472.47,124.95 472.83,124.52 473.2,126.78 473.57,127.98 473.94,124.95 474.31,126.29 474.67,127.7 475.04,129.25 475.41,126.78 475.78,128.16 476.14,125.87 476.51,125.77 476.88,128.62 477.25,128.97 477.62,126.78 477.98,129.14 478.35,127.7 478.72,126.71 479.09,129.54 479.46,125.67 479.82,123.11 480.19,125.15 480.56,124.95 480.93,117.93 481.29,113.91 481.66,114.28 482.03,111.15 482.4,112.46 482.77,115.75 483.13,113.92 483.5,109.31 483.87,109.12 484.24,112.07 484.61,110.24 484.97,108.39 485.34,108.86 485.71,105.63 486.08,106.65 486.44,110.23 486.81,110.11 487.18,112.07 487.55,113.94 487.92,115.75 488.28,115.87 488.65,117.59 489.02,119.23 489.39,124.95 489.76,124.93 490.12,127.7 490.49,125.75 490.86,126.78 491.23,129.62 491.59,128.62 491.96,128.96 492.33,127.7 492.7,130.82 493.07,130.46 493.43,130.85 493.8,134.14 494.17,128.04 494.54,119.43 494.91,118.65 495.27,121.27 495.64,124.16 496.01,126.78 496.38,125.55 496.74,123.11 497.11,123.87 497.48,125.87 497.85,128.89 498.22,128.62 498.58,128.41 498.95,127.7 499.32,125.76 499.69,123.11 500.06,122.49 500.42,118.51 500.79,118.15 501.16,121.27 501.53,125.28 501.89,124.95 502.26,126.44 502.63,126.78 503,126.32 503.37,126.78 503.73,129.01 504.1,128.62 504.47,128.05 504.84,129.54 505.21,130.78 505.57,127.7 505.94,128.96 506.31,129.54 506.68,128.47 507.04,128.62 507.41,131.17 507.78,131.38 508.15,132.05 508.52,133.22 508.88,132.26 509.25,134.14 509.62,134.75 509.99,133.22 510.35,131.69 510.72,134.14 511.09,136.01 511.46,135.06 511.83,133.06 512.19,133.22 512.56,134.29 512.93,134.14 513.3,134.43 513.67,130.46 514.03,127.16 514.4,123.11 514.77,124.29 515.14,124.03 515.5,124.58 515.87,126.78 516.24,125.05 516.61,127.7 516.98,126.57 517.34,129.54 517.71,127.54 518.08,128.62 518.45,130.05 518.82,130.46 519.18,130.63 519.55,131.38 519.92,131.9 520.29,132.3 520.65,134.96 521.02,134.14 521.39,132.98 521.76,135.06 522.13,132.02 522.49,131.38 522.86,132.98 523.23,133.22 523.6,129.74 523.97,130.46 524.33,125.52 524.7,124.95 525.09,124.31 525.47,124.95 525.84,124.59 526.21,127.7 526.57,125.24 526.94,124.03 527.31,124.19 527.68,126.78 528.05,128.07 528.41,128.62 528.78,128.1 529.15,126.78 529.52,123.18 529.89,122.19 530.25,119.51 530.62,115.75 530.99,116.56 531.36,117.59 531.72,112.76 532.09,111.15 532.46,114.45 532.83,113.91 533.2,115.54 533.56,119.43 533.93,119.26 534.3,122.19 534.67,121.79 535.04,124.95 535.4,127.85 535.77,129.54 536.14,132.56 536.51,132.3 536.87,132.62 537.24,130.46 537.61,129.11 537.98,128.62 538.35,126.67 538.71,126.78 539.08,125.56 539.45,128.62 539.82,130.18 540.19,130.46 540.55,130.28 540.92,129.54 541.29,129.8 541.66,131.38 542.02,131.1 542.39,129.54 542.76,128.84 543.13,128.62 543.5,130.09 543.86,127.7 544.23,130.11 544.6,130.46 544.97,128.9 545.34,129.54 545.7,132.24 546.07,131.38 546.44,129.84 546.81,132.3 547.17,131.98 547.54,131.38 547.91,132.35 548.28,134.14 548.65,134.37 549.01,136.9 549.38,133.58 549.75,134.14 550.12,134.45 550.49,132.3 550.85,130.62 551.22,133.22 551.59,132.99 551.96,132.3 552.32,133.78 552.69,131.38 553.06,129.35 553.43,130.46 553.8,130.98 554.16,134.14 554.53,131.86 554.9,128.62 555.27,123.6 555.64,118.51 556,121.43 556.37,123.11 556.74,127.7 557.11,129.54 557.47,129.49 557.84,132.3 558.21,132.38 558.58,134.14 558.95,132.34 559.31,132.3 559.68,129.86 560.05,131.38 560.42,133.56 560.78,132.3 561.15,134.93 561.52,135.06 561.89,136.47 562.26,135.98 562.62,133.81 562.99,135.98 563.36,137.04 563.73,135.06 564.1,135.68 564.46,134.14 564.83,133.07 565.2,132.3 565.57,131.53 565.93,128.62 566.3,125.2 566.67,122.19 567.04,121.44 567.41,123.11 567.77,123.21 568.14,126.78 568.51,126.53 568.88,128.62 569.25,122.92 569.61,121.27 569.98,119.16 570.35,118.51 570.72,119.15 571.08,117.59 571.45,119.83 571.82,120.35 572.19,122.33 572.56,121.27 572.92,123.58 573.29,124.03 573.66,123.92 574.03,125.87 574.4,125.64 574.76,124.95 575.13,121.45 575.5,118.51 575.87,118.4 576.23,115.75 576.6,117.69 576.97,119.43 577.34,117.48 577.71,117.59 578.07,117.29 578.44,115.75 578.81,116.88 579.18,113.91 579.55,116.8 579.91,122.19 580.28,124.78 580.65,124.03 581.02,123.27 581.38,126.78 581.75,126.65 582.12,128.62 582.49,127.92 582.86,129.54 583.22,131.54 583.59,131.38 583.96,131.96 584.33,128.62 584.7,128.79 585.06,126.78 585.43,126.94 585.8,128.62 586.17,131.22 586.53,130.46 586.9,128.79 587.27,128.62 587.64,125.64 588.01,124.95 588.37,124.44 588.74,120.35 589.11,124.14 589.48,126.78 589.85,129.01 590.21,129.54 590.58,129.81 590.95,128.62 591.32,131.19 591.68,129.54 592.05,128.95 592.42,128.62 592.79,129.2 593.16,126.78 593.52,123.98 593.89,119.43 594.26,118.24 594.63,113.91 595,117.31 595.36,121.27 595.73,123.18 596.1,123.11 596.47,123.88 596.83,124.03 597.2,123.64 597.57,124.95 597.94,124.6 598.31,126.78 598.67,127.78 599.04,127.7 599.41,126.77 599.78,129.54 600.14,132.27 600.51,131.38 600.88,130.74 601.25,133.22 601.62,131.6 601.98,134.14 602.35,127.81 602.72,124.95 603.09,124.53 603.46,120.35 603.82,120.58 604.19,122.19 604.56,121.53 604.93,124.03 605.29,121.49 605.66,123.11 606.03,122.01 606.4,124.95 606.77,127.17 607.13,127.7 607.5,127.37 607.87,125.87 608.24,125.35 608.61,123.11 608.97,125.99 609.34,126.78 609.71,125.33 610.08,127.7 610.44,128.56 610.81,128.62 611.18,127.1 611.55,126.78 611.92,125.88 612.28,122.19 612.65,121.75 613.02,118.51 613.39,122.53 613.76,123.11 614.12,123.04 614.49,126.78 614.86,127.48 615.23,124.95 615.59,127.69 615.96,126.78 616.33,129.66 616.7,128.62 617.07,126.44 617.43,127.7 617.8,125.95 618.17,126.78 618.54,126 618.91,128.62 619.27,127.04 619.64,129.54 620.01,131.53 620.38,130.46 620.74,132.3 621.11,131.38 621.48,130.59 621.85,128.62 622.22,123.62 622.58,115.75 622.95,118.17 623.32,119.43 623.69,121.25 624.06,124.95 624.42,123.65 624.79,125.87 625.16,124.56 625.53,126.78 625.89,128.38 626.26,127.7 626.63,125.95 627,126.78 627.37,126.91 627.73,128.62 628.1,128.75 628.47,129.54 628.84,127.9 629.21,130.46 629.57,127.55 629.94,126.78 630.31,115.71 630.68,106.55 631.04,106.58 631.41,104.71 631.78,105.97 632.15,108.39 632.52,110.36 632.88,113.91 633.25,118.71 633.62,119.43 633.99,120.36 634.35,121.27 634.72,123.73 635.09,123.11 635.46,124.09 635.83,124.03" fill="none" stroke="#0f7438" stroke-width="0.95" stroke-linejoin="round"/>
<rect x="399.5" y="0.2" width="248.5" height="150.3" fill="none" stroke="#444444" stroke-width="0.8"/>
<line x1="410.5" y1="150.5" x2="410.5" y2="152.3" stroke="#444444" stroke-width="0.7"/>
<text transform="translate(410.5,158.5) scale(1,1.1)" text-anchor="middle" font-size="6.4">0</text>
<line x1="445.22" y1="150.5" x2="445.22" y2="152.3" stroke="#444444" stroke-width="0.7"/>
<text transform="translate(445.22,158.5) scale(1,1.1)" text-anchor="middle" font-size="6.4">100</text>
<line x1="479.94" y1="150.5" x2="479.94" y2="152.3" stroke="#444444" stroke-width="0.7"/>
<text transform="translate(479.94,158.5) scale(1,1.1)" text-anchor="middle" font-size="6.4">200</text>
<line x1="514.66" y1="150.5" x2="514.66" y2="152.3" stroke="#444444" stroke-width="0.7"/>
<text transform="translate(514.66,158.5) scale(1,1.1)" text-anchor="middle" font-size="6.4">300</text>
<line x1="549.38" y1="150.5" x2="549.38" y2="152.3" stroke="#444444" stroke-width="0.7"/>
<text transform="translate(549.38,158.5) scale(1,1.1)" text-anchor="middle" font-size="6.4">400</text>
<line x1="584.1" y1="150.5" x2="584.1" y2="152.3" stroke="#444444" stroke-width="0.7"/>
<text transform="translate(584.1,158.5) scale(1,1.1)" text-anchor="middle" font-size="6.4">500</text>
<line x1="618.82" y1="150.5" x2="618.82" y2="152.3" stroke="#444444" stroke-width="0.7"/>
<text transform="translate(618.82,158.5) scale(1,1.1)" text-anchor="middle" font-size="6.4">600</text>
<line x1="397.6" y1="150.4" x2="399.5" y2="150.4" stroke="#444444" stroke-width="0.7"/>
<text transform="translate(395.9,153.2) scale(1,1.1)" text-anchor="end" font-size="6.4">0</text>
<line x1="397.6" y1="130.4" x2="399.5" y2="130.4" stroke="#444444" stroke-width="0.7"/>
<text transform="translate(395.9,133.2) scale(1,1.1)" text-anchor="end" font-size="6.4">2000</text>
<line x1="397.6" y1="110.4" x2="399.5" y2="110.4" stroke="#444444" stroke-width="0.7"/>
<text transform="translate(395.9,113.2) scale(1,1.1)" text-anchor="end" font-size="6.4">4000</text>
<line x1="397.6" y1="90.4" x2="399.5" y2="90.4" stroke="#444444" stroke-width="0.7"/>
<text transform="translate(395.9,93.2) scale(1,1.1)" text-anchor="end" font-size="6.4">6000</text>
<line x1="397.6" y1="70.4" x2="399.5" y2="70.4" stroke="#444444" stroke-width="0.7"/>
<text transform="translate(395.9,73.2) scale(1,1.1)" text-anchor="end" font-size="6.4">8000</text>
<line x1="397.6" y1="50.4" x2="399.5" y2="50.4" stroke="#444444" stroke-width="0.7"/>
<text transform="translate(395.9,53.2) scale(1,1.1)" text-anchor="end" font-size="6.4">10000</text>
<line x1="397.6" y1="30.4" x2="399.5" y2="30.4" stroke="#444444" stroke-width="0.7"/>
<text transform="translate(395.9,33.2) scale(1,1.1)" text-anchor="end" font-size="6.4">12000</text>
<line x1="397.6" y1="10.4" x2="399.5" y2="10.4" stroke="#444444" stroke-width="0.7"/>
<text transform="translate(395.9,13.2) scale(1,1.1)" text-anchor="end" font-size="6.4">14000</text>
<line x1="648" y1="150.4" x2="649.6" y2="150.4" stroke="#444444" stroke-width="0.7"/>
<text transform="translate(651.4,153.2) scale(1,1.1)" font-size="6.4">0</text>
<line x1="648" y1="130.4" x2="649.6" y2="130.4" stroke="#444444" stroke-width="0.7"/>
<text transform="translate(651.4,133.2) scale(1,1.1)" font-size="6.4">2000</text>
<line x1="648" y1="110.4" x2="649.6" y2="110.4" stroke="#444444" stroke-width="0.7"/>
<text transform="translate(651.4,113.2) scale(1,1.1)" font-size="6.4">4000</text>
<line x1="648" y1="90.4" x2="649.6" y2="90.4" stroke="#444444" stroke-width="0.7"/>
<text transform="translate(651.4,93.2) scale(1,1.1)" font-size="6.4">6000</text>
<line x1="648" y1="70.4" x2="649.6" y2="70.4" stroke="#444444" stroke-width="0.7"/>
<text transform="translate(651.4,73.2) scale(1,1.1)" font-size="6.4">8000</text>
<line x1="648" y1="50.4" x2="649.6" y2="50.4" stroke="#444444" stroke-width="0.7"/>
<text transform="translate(651.4,53.2) scale(1,1.1)" font-size="6.4">10000</text>
<line x1="648" y1="30.4" x2="649.6" y2="30.4" stroke="#444444" stroke-width="0.7"/>
<text transform="translate(651.4,33.2) scale(1,1.1)" font-size="6.4">12000</text>
<line x1="648" y1="10.4" x2="649.6" y2="10.4" stroke="#444444" stroke-width="0.7"/>
<text transform="translate(651.4,13.2) scale(1,1.1)" font-size="6.4">14000</text>
<text transform="translate(367.7,75.55) rotate(-90) scale(1,1.05)" class="lb" text-anchor="middle" font-size="8.95">U-PS(L,N,S) data under normal</text>
<text transform="translate(377.1,75.55) rotate(-90) scale(1,1.05)" class="lb" text-anchor="middle" font-size="8.95">conditions (unit: seconds)</text>
<text transform="translate(673.8,75.55) rotate(-90) scale(1,1.05)" class="lb" text-anchor="middle" font-size="8.95">U-PS(L,N,S) data under abnormal</text>
<text transform="translate(682.7,75.55) rotate(-90) scale(1,1.05)" class="lb" text-anchor="middle" font-size="8.95">conditions (unit: seconds)</text>
<text transform="translate(519.1,168.6) scale(1,1.1)" text-anchor="middle" font-size="7.2" class="lb">Sample ID</text>
<rect x="596.6" y="3.1" width="47.5" height="20.4" rx="1.2" fill="#fff" fill-opacity="0.8" stroke="#d8d8d8" stroke-width="0.6"/>
<line x1="598.4" y1="8.2" x2="611.9" y2="8.2" stroke="#2f78bd" stroke-width="1.3" stroke-opacity="0.55"/>
<line x1="598.4" y1="17.18" x2="611.9" y2="17.18" stroke="#0f7438" stroke-width="1.3" stroke-opacity="0.55"/>
<text transform="translate(616.4,10.1) scale(1,1.1)" font-size="6.2">Normal</text>
<text transform="translate(616.4,19.08) scale(1,1.1)" font-size="6.2">Abnormal</text>
<text x="408.7" y="23.1" font-size="16" font-weight="bold" style="fill:#150b0b">b</text>
<clipPath id="cc"><rect x="35" y="201.5" width="250.5" height="149"/></clipPath>
<polyline clip-path="url(#cc)" points="46.31,317.96 46.68,318.84 47.04,320.69 47.41,324.29 47.77,324.34 48.14,325.22 48.5,322.52 48.87,325.87 49.23,326.17 49.6,325.18 49.96,327.08 50.33,324.95 50.69,324.34 51.06,326.68 51.42,326.17 51.79,324.12 52.15,325.26 52.52,326.98 52.88,327.08 53.25,324.97 53.61,324.34 53.98,326.98 54.34,326.17 54.71,322.6 55.07,322.52 55.44,322.25 55.8,319.78 56.17,318.75 56.53,318.87 56.9,319.4 57.26,322.52 57.63,322.09 57.99,325.26 58.36,327.36 58.72,327.08 59.09,328.54 59.45,329.82 59.82,327.77 60.18,327.99 60.55,326.85 60.91,326.17 61.28,328.56 61.64,327.99 62.01,326.52 62.37,327.08 62.74,327.79 63.1,327.99 63.47,327.6 63.83,329.82 64.2,327.75 64.56,327.99 64.93,329.42 65.29,328.91 65.66,331.04 66.02,331.64 66.39,331.01 66.75,332.55 67.12,332.41 67.48,335.29 67.85,332.89 68.21,333.47 68.58,332.95 68.94,331.64 69.31,330.26 69.67,328.91 70.04,328.55 70.4,329.82 70.77,327.85 71.13,327.99 71.5,327.94 71.86,327.08 72.23,328.74 72.59,328.91 72.96,329.11 73.32,327.08 73.69,328.75 74.05,329.82 74.42,327.83 74.78,327.99 75.15,326.89 75.51,328.91 75.88,328.83 76.24,327.08 76.61,328.57 76.97,330.73 77.34,330.16 77.7,327.99 78.07,327.3 78.43,329.82 78.8,329.57 79.16,327.08 79.53,327.86 79.89,329.82 80.26,331.96 80.62,331.64 80.99,332.5 81.35,330.73 81.72,331.62 82.08,332.55 82.45,331.27 82.81,333.47 83.18,334.03 83.54,331.64 83.91,332.93 84.27,334.38 84.64,335.26 85,333.47 85.36,333.54 85.73,335.29 86.09,334.62 86.46,336.2 86.82,336.94 87.19,335.29 87.55,335.73 87.92,337.12 88.28,335.45 88.65,336.2 89.01,336.65 89.38,338.03 89.74,337.91 90.11,337.12 90.47,334.42 90.84,335.29 91.2,334.45 91.57,333.47 91.93,332.36 92.3,331.64 92.66,330.33 93.03,328.91 93.39,328 93.76,329.82 94.12,329.68 94.49,327.99 94.85,329.59 95.22,328.91 95.58,329.31 95.95,327.08 96.31,326.89 96.68,327.99 97.04,327.84 97.41,326.17 97.77,324.83 98.14,324.34 98.5,324.34 98.87,322.52 99.23,320.03 99.6,320.69 99.96,321.58 100.33,319.78 100.69,321.87 101.06,320.69 101.42,319.76 101.79,318.87 102.15,319.37 102.52,319.78 102.88,318.98 103.25,317.96 103.61,318.55 103.98,318.87 104.34,316.23 104.71,317.04 105.07,319.18 105.44,317.96 105.8,317.42 106.17,318.87 106.53,318.64 106.9,320.69 107.26,318.81 107.63,319.78 107.99,320.25 108.36,322.52 108.72,324.57 109.09,324.34 109.45,324.48 109.82,327.99 110.18,328.36 110.55,331.64 110.91,333.27 111.28,333.47 111.64,331.46 112.01,331.64 112.37,328.99 112.74,329.82 113.1,331.09 113.47,331.64 113.83,332.83 114.2,333.47 114.56,334.46 114.93,335.29 115.29,334.2 115.66,331.64 116.02,328.39 116.39,327.99 116.75,328.41 117.12,326.17 117.48,327.41 117.85,327.08 118.21,324.07 118.58,324.34 118.94,322.07 119.31,322.52 119.67,321.58 120.04,320.69 120.4,322.06 120.77,323.43 121.13,324.01 121.5,326.17 121.86,325.72 122.23,327.99 122.59,327.2 122.96,327.08 123.32,327.14 123.69,329.82 124.05,329.24 124.42,327.99 124.78,328.38 125.15,326.17 125.51,325.35 125.88,327.08 126.24,326.43 126.61,325.26 126.97,325.69 127.34,324.34 127.7,322.22 128.07,322.52 128.43,325.52 128.8,326.17 129.16,326.83 129.53,324.34 129.89,323.49 130.26,323.43 130.62,324.06 130.99,325.26 131.35,326.02 131.72,324.34 132.08,325.35 132.45,326.17 132.81,324.88 133.18,324.34 133.54,327.3 133.91,327.08 134.27,327.16 134.64,325.26 135,325.13 135.36,326.17 135.73,324.32 136.09,324.34 136.46,324.21 136.82,325.26 137.19,325.94 137.55,327.08 137.92,327.44 138.28,324.34 138.65,327.26 139.01,327.99 139.38,330.39 139.74,329.82 140.11,331.86 140.47,331.64 140.84,333.81 141.2,333.47 141.57,331.4 141.93,332.55 142.3,333.53 142.66,334.38 143.03,336.48 143.39,335.29 143.76,335.94 144.12,333.47 144.49,331.65 144.85,331.64 145.22,329.99 145.58,328.91 145.95,329.84 146.31,329.82 146.68,328.42 147.04,327.99 147.41,328.56 147.77,328.91 148.14,326.44 148.5,327.08 148.87,326.38 149.23,326.17 149.6,324.82 149.96,323.43 150.33,320.79 150.69,321.61 151.06,319.85 151.42,320.69 151.79,324.21 152.15,324.34 152.52,326.25 152.88,326.17 153.25,329.57 153.61,329.82 153.98,331.21 154.34,331.64 154.71,330.93 155.07,327.99 155.44,328.46 155.8,326.17 156.17,326.64 156.53,324.34 156.9,322.21 157.26,323.43 157.63,324.4 157.99,324.34 158.36,322.59 158.72,322.52 159.09,323.62 159.45,323.43 159.77,322.52 160.09,323.39 160.41,324.67 160.74,323.05 161.1,321.65 161.47,319.37 161.84,317.56 162.21,317.53 162.57,318.53 162.94,319.37 163.31,318.68 163.68,318.45 164.05,319.62 164.41,317.53 164.78,317.69 165.15,319.37 165.52,319.59 165.89,321.21 166.25,323.58 166.62,324.89 166.99,321.69 167.36,321.21 167.72,321.09 168.09,320.29 168.46,323.77 168.83,323.97 169.2,325.4 169.56,326.73 169.93,326.36 170.3,327.65 170.67,328.91 171.04,330.41 171.4,331.45 171.77,332.25 172.14,329.6 172.51,329.49 172.87,328.6 173.24,330.41 173.61,328.16 173.98,328.57 174.35,328.75 174.71,330.41 175.08,329.61 175.45,329.49 175.82,328.27 176.19,328.57 176.55,328.11 176.92,329.49 177.29,328.47 177.66,330.41 178.02,331.5 178.39,332.25 178.76,333.01 179.13,331.33 179.5,333.1 179.86,334.09 180.23,335.26 180.6,335.93 180.97,338.31 181.34,339.61 181.7,338.99 182.07,340.53 182.44,339.9 182.81,337.77 183.17,335.79 183.54,334.09 183.91,333.34 184.28,332.25 184.65,331.73 185.01,330.41 185.38,329.38 185.75,328.57 186.12,326.97 186.49,326.73 186.85,325.34 187.22,325.81 187.59,325.73 187.96,327.65 188.32,328.15 188.69,328.57 189.06,327.23 189.43,326.73 189.8,326.58 190.16,325.81 190.53,324.51 190.9,326.73 191.27,326.66 191.64,327.65 192,327.57 192.37,324.89 192.74,324.87 193.11,326.73 193.47,325.56 193.84,323.97 194.21,324.4 194.58,324.89 194.95,325.04 195.31,326.73 195.68,327.11 196.05,323.97 196.42,322.78 196.78,323.05 197.15,323.57 197.52,322.13 197.89,319.06 198.26,318.45 198.62,316.43 198.99,317.53 199.36,319.79 199.73,319.37 200.1,318.7 200.46,318.45 200.83,317.34 201.2,319.37 201.57,319.89 201.93,321.21 202.3,321.46 202.67,322.13 203.04,321.6 203.41,319.37 203.77,318.43 204.14,320.29 204.51,319.76 204.88,321.21 205.25,323.79 205.61,323.05 205.98,322.99 206.35,321.21 206.72,319.05 207.08,319.37 207.45,317.41 207.82,316.61 208.19,318.38 208.56,321.21 208.92,323.68 209.29,324.89 209.66,324.39 210.03,323.05 210.4,326.61 210.76,327.65 211.13,328.35 211.5,326.73 211.87,327.71 212.23,328.57 212.6,328.05 212.97,325.81 213.34,327.61 213.71,327.65 214.07,327.21 214.44,324.89 214.81,326.18 215.18,327.65 215.55,330.06 215.91,330.41 216.28,332.08 216.65,332.25 217.02,334.66 217.38,334.09 217.75,332.29 218.12,333.17 218.49,333.58 218.86,331.33 219.22,330 219.59,332.25 219.96,334.12 220.33,334.09 220.7,333.94 221.06,333.17 221.43,334.08 221.8,335.01 222.17,336.21 222.53,334.09 222.9,333.43 223.27,332.25 223.64,332.87 224.01,334.09 224.37,336.03 224.74,335.93 225.11,337.73 225.48,336.85 225.85,335.85 226.21,334.09 226.58,332.73 226.95,332.25 227.32,331.16 227.68,330.41 228.05,329.34 228.42,328.57 228.79,328.45 229.16,326.73 229.52,326.45 229.89,327.65 230.26,326.8 230.63,326.73 231,325.55 231.36,323.97 231.73,324.02 232.1,324.89 232.47,323.33 232.83,323.05 233.2,323.63 233.57,322.13 233.94,323.85 234.31,323.05 234.67,323.51 235.04,323.97 235.41,324.69 235.78,325.81 236.14,325.59 236.51,327.65 236.88,327.86 237.25,329.49 237.62,329.13 237.98,331.33 238.35,332.06 238.72,332.25 239.09,331.62 239.46,330.41 239.82,329.85 240.19,332.25 240.56,334.22 240.93,333.17 241.29,332.07 241.66,332.25 242.03,334.4 242.4,334.09 242.77,334.39 243.13,332.25 243.5,334.36 243.87,333.17 244.24,331.18 244.61,331.33 244.97,331.52 245.34,332.25 245.71,332.81 246.08,330.41 246.44,329.11 246.81,331.33 247.18,328.78 247.55,329.49 247.92,330.18 248.28,330.41 248.65,329.48 249.02,328.57 249.39,331 249.76,330.41 250.12,330.93 250.49,329.49 250.86,330.55 251.23,331.33 251.59,332.66 251.96,330.41 252.33,330.01 252.7,329.49 253.07,330.01 253.43,330.41 253.8,330.16 254.17,328.57 254.54,327.71 254.91,327.65 255.27,326.68 255.64,326.73 256.01,326.61 256.38,325.81 256.74,326.19 257.11,327.65 257.48,330.18 257.85,329.49 258.22,331.5 258.58,332.25 258.95,333.26 259.32,334.09 259.69,333.56 260.06,335.93 260.42,336.39 260.79,337.77 261.16,337.87 261.53,338.69 261.89,337.53 262.26,335.93 262.63,334.35 263,332.25 263.37,332.7 263.73,330.41 264.1,333 264.47,332.25 264.84,330.82 265.21,329.49 265.57,329.73 265.94,330.41 266.31,329.94 266.68,328.57 267.04,331.28 267.41,330.41 267.78,329.39 268.15,329.49 268.52,329.14 268.88,328.57 269.25,329.25 269.62,327.65 269.99,327.38 270.35,329.49 270.72,327.92 271.09,327.65 271.46,329.83 271.83,328.57 272.19,328.36 272.56,325.81 272.93,326.32 273.3,326.73 273.67,324.41 274.03,324.89 274.4,325.81" fill="none" stroke="#2f78bd" stroke-width="0.95" stroke-linejoin="round"/>
<polyline clip-path="url(#cc)" points="46.31,349.89 46.68,349.74 47.04,342.59 47.41,333.26 47.77,327.99 48.14,322.15 48.5,320.69 48.87,321.02 49.23,326.17 49.6,329.94 49.96,331.64 50.33,331.44 50.69,327.99 51.06,334.14 51.42,333.47 51.79,326.12 52.15,329.82 52.52,334.31 52.88,333.47 53.25,337.18 53.61,331.64 53.98,334.01 54.34,335.29 54.71,325.33 55.07,326.17 55.44,318.3 55.8,315.22 56.17,306.56 56.53,309.74 56.9,302.45 57.26,300.55 57.63,306.09 57.9,301.57 58.18,286.93 58.45,294.17 58.72,298.8 59.09,306.17 59.45,309.74 59.82,316.86 60.18,317.04 60.55,326.52 60.91,326.17 61.28,326.6 61.64,324.34 62.01,318.44 62.37,309.74 62.74,303.97 63.1,295.15 63.47,292.94 63.83,286.02 64.2,289.91 64.56,291.5 64.84,287.74 65.11,279.64 65.38,280.29 65.66,287.85 66.02,287.11 66.39,282.37 66.75,286.43 67.12,291.5 67.48,291 67.85,284.2 68.12,273.94 68.39,273.25 68.67,273.99 68.94,282.37 69.31,279.55 69.67,287.85 70.04,284.75 70.4,275.07 70.77,288.25 71.13,291.5 71.5,297.93 71.86,300.62 72.23,287.19 72.59,276.9 72.96,276.02 73.32,267.41 73.69,280.15 74.05,286.02 74.42,292.24 74.78,296.97 75.15,289.5 75.51,287.85 75.88,288.21 76.24,293.32 76.61,288.73 76.97,286.02 77.34,295.7 77.7,309.74 78.07,305.26 78.43,302.45 78.8,298.67 79.16,291.5 79.53,307.65 79.89,313.39 80.26,300.75 80.62,298.8 80.99,305.08 81.35,309.74 81.72,301.48 82.08,304.27 82.45,293.31 82.81,291.5 83.18,299.78 83.54,300.62 83.91,293.31 84.27,284.2 84.64,296.52 85,298.8 85.36,303.63 85.73,309.74 86.09,306.65 86.46,315.22 86.82,315.69 87.19,318.87 87.55,320.88 87.92,320.69 88.28,325.03 88.65,318.87 89.01,328.29 89.38,326.17 89.74,326.79 90.11,327.99 90.47,327.85 90.84,329.82 91.2,327.78 91.57,335.29 91.93,337.94 92.3,337.12 92.66,335.49 93.03,340.77 93.39,337.5 93.76,342.59 94.12,337.69 94.49,344.42 94.85,333.91 95.22,335.29 95.58,333.85 95.95,327.99 96.31,321.63 96.68,324.34 97.04,333.59 97.41,331.64 97.77,327.61 98.14,333.47 98.5,331.51 98.87,320.69 99.23,312.59 99.6,313.39 99.96,303.05 100.33,304.27 100.69,309.64 101.06,309.74 101.42,301.18 101.79,298.8 102.15,305.25 102.52,306.09 102.88,305.08 103.25,311.57 103.61,308 103.98,315.22 104.34,314.86 104.71,307.92 105.07,308.66 105.44,304.27 105.8,313.1 106.17,313.39 106.53,318.89 106.9,318.87 107.26,309.32 107.63,309.74 107.99,305.81 108.36,298.8 108.72,297.66 109.09,291.5 109.45,291.94 109.82,293.32 110.18,302.16 110.55,300.62 110.91,301.32 111.28,307.92 111.64,317.14 112.01,315.22 112.37,314.18 112.74,307.92 113.1,306.62 113.47,317.04 113.83,316.7 114.2,327.99 114.56,327.98 114.93,324.34 115.29,321.76 115.66,311.57 116.02,301.96 116.39,302.45 116.75,302 117.12,306.09 117.48,310.67 117.85,309.74 118.21,301.17 118.58,300.62 118.94,298.57 119.31,287.85 119.67,284.95 120.04,282.37 120.4,273.44 120.77,275.07 121.13,275.31 121.5,278.72 121.86,275.06 122.23,269.6 122.59,265.21 122.96,262.3 123.32,271.72 123.69,276.9 124.05,279.94 124.42,291.5 124.78,302.36 125.15,306.09 125.51,308.1 125.88,313.39 126.24,318.78 126.61,320.69 126.97,324.07 127.34,324.34 127.7,318.8 128.07,315.22 128.43,315.67 128.8,318.87 129.16,315.92 129.53,306.09 129.89,315.08 130.26,313.39 130.62,309.51 130.99,298.8 131.35,295.95 131.72,291.5 132.08,295.39 132.45,304.27 132.81,293.52 133.18,293.32 133.54,306.31 133.91,307.92 134.27,306.71 134.64,300.62 135,310.94 135.36,313.39 135.73,312.29 136.09,315.22 136.46,311.01 136.82,304.27 137.19,304.52 137.55,293.32 137.92,300.95 138.28,300.62 138.65,306.4 139.01,309.74 139.38,300.15 139.74,295.15 140.11,297.94 140.47,302.45 140.84,309.84 141.2,307.92 141.57,310.09 141.93,315.22 142.3,319.26 142.66,318.87 143.03,322.83 143.39,324.34 143.76,327.27 144.12,320.69 144.49,328.03 144.85,327.99 145.22,327.22 145.58,331.64 145.95,322.93 146.31,326.17 146.68,322.41 147.04,324.34 147.41,327.06 147.77,331.64 148.14,334.51 148.5,335.29 148.87,335.43 149.23,327.99 149.6,328.08 149.96,318.87 150.33,307.9 150.69,307.92 151.06,301.88 151.42,287.85 151.7,283.83 151.97,272.34 152.34,284.5 152.7,287.85 153.07,296.01 153.43,302.45 153.8,306.12 154.16,315.22 154.53,324 154.89,324.34 155.26,329.85 155.62,327.99 155.99,332.03 156.35,331.64 156.72,338.43 157.08,335.29 157.45,335.28 157.81,338.94 158.18,334.87 158.54,340.77 158.91,342.32 159.27,342.59 159.64,346.33 160,339.34 160.37,346.11 160.74,343.28 161.1,342.95 161.47,332.25 161.84,322.62 162.21,319.37 162.57,314.22 162.94,306.5 163.31,307.71 163.68,304.66 164.05,307 164.41,310.18 164.78,302.06 165.15,300.98 165.52,300.8 165.89,306.5 166.25,311.35 166.62,310.18 166.99,308.16 167.36,299.14 167.72,294.06 168.09,289.95 168.46,286.84 168.83,293.62 169.2,292.71 169.56,284.43 169.93,284.94 170.3,278.91 170.67,282.14 171.04,291.78 171.4,296.42 171.77,299.14 172.14,300.23 172.51,291.78 172.87,301 173.24,300.98 173.61,304.92 173.98,308.34 174.35,308.98 174.71,310.18 175.08,304.81 175.45,297.3 175.82,288.05 176.19,286.27 176.55,279.82 176.92,280.75 177.29,274.62 177.66,276.15 178.02,284.54 178.39,288.11 178.76,291.06 179.13,297.3 179.5,299.92 179.86,300.98 180.23,294.29 180.6,289.95 180.97,287.39 181.34,284.43 181.7,285.73 182.07,295.46 182.44,294.6 182.81,304.66 183.17,313.38 183.54,310.18 183.91,312.34 184.28,317.53 184.65,305.45 185.01,302.82 185.38,295.68 185.75,285.35 186.12,292.01 186.49,291.78 186.85,292.26 187.22,300.98 187.59,306.75 187.96,310.18 188.32,312.91 188.69,319.37 189.06,323.29 189.43,326.73 189.8,323.74 190.16,332.25 190.53,328.49 190.9,335.93 191.27,342.73 191.64,337.77 192,343.08 192.37,339.61 192.74,329.33 193.11,319.37 193.47,316.5 193.84,312.02 194.21,306.86 194.58,307.42 194.95,314.91 195.31,315.7 195.68,317.57 196.05,321.21 196.42,328.41 196.78,324.89 197.15,329.94 197.52,328.57 197.89,333.32 198.26,330.41 198.62,336.89 198.99,332.25 199.36,330.22 199.73,334.09 200.1,329.46 200.46,335.93 200.83,328.66 201.2,328.57 201.57,318.3 201.93,315.7 202.3,307.02 202.67,308.34 203.04,291 203.41,284.43 203.77,284.2 204.14,282.59 204.51,291.63 204.88,291.78 205.25,288.53 205.61,286.27 205.98,298.99 206.35,300.98 206.72,304.06 207.08,297.3 207.45,288.39 207.82,289.95 208.19,287.9 208.56,283.51 208.92,286.42 209.29,291.78 209.66,291.82 210.03,300.98 210.4,304.65 210.76,297.3 211.13,298.99 211.5,306.5 211.87,303.59 212.23,299.14 212.6,297.15 212.97,291.78 213.34,293.58 213.71,284.43 214.07,283.71 214.44,278.91 214.81,281.31 215.18,286.27 215.55,279.21 215.91,273.39 216.28,268.85 216.65,272.47 217.02,284.04 217.38,284.43 217.75,298.61 218.12,300.98 218.49,304.08 218.86,313.86 219.22,311.08 219.59,319.37 219.96,311.85 220.33,310.18 220.7,301.04 221.06,295.46 221.43,298.46 221.8,291.78 222.17,301.24 222.53,300.98 222.9,299.51 223.27,289.95 223.64,290.03 224.01,300.98 224.37,307.18 224.74,306.5 225.11,301.66 225.48,291.78 225.85,290.79 226.21,286.27 226.58,290.25 226.95,282.59 227.32,272.66 227.68,273.39 228.05,266.83 228.42,268.79 228.79,275.07 229.16,275.23 229.52,282.34 229.89,278.91 230.26,282.87 230.63,282.59 231,283.85 231.36,289.95 231.73,294.72 232.1,297.3 232.47,298.56 232.83,293.62 233.2,292.57 233.57,300.98 233.94,303.47 234.31,310.18 234.67,310.02 235.04,315.7 235.41,313.02 235.78,319.37 236.14,321.91 236.51,324.89 236.88,324.59 237.25,332.25 237.62,330.03 237.98,334.09 238.35,327.05 238.72,328.57 239.09,325.18 239.46,317.53 239.82,305.25 240.19,304.66 240.56,311.86 240.93,313.86 241.29,313.88 241.66,321.21 242.03,319.32 242.4,328.57 242.77,336.46 243.13,334.09 243.5,329.81 243.87,332.25 244.24,339.3 244.61,335.93 244.97,339.41 245.34,334.09 245.71,334.15 246.08,324.89 246.44,316.89 246.81,317.53 247.18,315.06 247.55,313.86 247.92,307.18 248.28,310.18 248.65,311.64 249.02,302.82 249.39,302.33 249.76,293.62 250.12,298.84 250.49,300.98 250.86,305.01 251.23,310.18 251.59,311.01 251.96,315.7 252.33,317.73 252.7,312.02 253.07,308.99 253.43,306.5 253.8,311.72 254.17,313.86 254.54,312.33 254.91,319.37 255.27,318.79 255.64,324.89 256.01,321.41 256.38,328.57 256.74,332.97 257.11,332.25 257.48,333.81 257.85,334.09 258.22,327.07 258.58,328.57 258.95,323.82 259.32,310.18 259.69,302.78 260.06,300.98 260.42,296.24 260.79,293.62 261.16,294.09 261.53,302.82 261.89,296.4 262.26,295.46 262.63,294.02 263,284.43 263.37,281.52 263.73,282.59 264.1,283.2 264.47,291.78 264.84,297.19 265.21,302.82 265.57,305.24 265.94,312.02 266.31,320.53 266.68,319.37 267.04,319.34 267.41,328.57 267.78,321.44 268.15,302.82 268.52,288.31 268.88,284.43 269.25,288.71 269.62,283.51 269.99,289.67 270.35,291.78 270.72,294.76 271.09,304.66 271.46,306.23 271.83,308.34 272.19,302.09 272.56,300.98 272.93,302.67 273.3,310.18 273.67,308.44 274.03,313.86 274.4,317.53" fill="none" stroke="#0f7438" stroke-width="0.95" stroke-linejoin="round"/>
<rect x="35" y="201.5" width="250.5" height="149" fill="none" stroke="#444444" stroke-width="0.8"/>
<line x1="46.5" y1="350.5" x2="46.5" y2="352.3" stroke="#444444" stroke-width="0.7"/>
<text transform="translate(46.5,358.5) scale(1,1.1)" text-anchor="middle" font-size="6.4">0</text>
<line x1="81.47" y1="350.5" x2="81.47" y2="352.3" stroke="#444444" stroke-width="0.7"/>
<text transform="translate(81.47,358.5) scale(1,1.1)" text-anchor="middle" font-size="6.4">100</text>
<line x1="116.44" y1="350.5" x2="116.44" y2="352.3" stroke="#444444" stroke-width="0.7"/>
<text transform="translate(116.44,358.5) scale(1,1.1)" text-anchor="middle" font-size="6.4">200</text>
<line x1="151.41" y1="350.5" x2="151.41" y2="352.3" stroke="#444444" stroke-width="0.7"/>
<text transform="translate(151.41,358.5) scale(1,1.1)" text-anchor="middle" font-size="6.4">300</text>
<line x1="186.38" y1="350.5" x2="186.38" y2="352.3" stroke="#444444" stroke-width="0.7"/>
<text transform="translate(186.38,358.5) scale(1,1.1)" text-anchor="middle" font-size="6.4">400</text>
<line x1="221.35" y1="350.5" x2="221.35" y2="352.3" stroke="#444444" stroke-width="0.7"/>
<text transform="translate(221.35,358.5) scale(1,1.1)" text-anchor="middle" font-size="6.4">500</text>
<line x1="256.32" y1="350.5" x2="256.32" y2="352.3" stroke="#444444" stroke-width="0.7"/>
<text transform="translate(256.32,358.5) scale(1,1.1)" text-anchor="middle" font-size="6.4">600</text>
<line x1="33.1" y1="350.4" x2="35" y2="350.4" stroke="#444444" stroke-width="0.7"/>
<text transform="translate(31.4,353.2) scale(1,1.1)" text-anchor="end" font-size="6.4">0</text>
<line x1="33.1" y1="320.64" x2="35" y2="320.64" stroke="#444444" stroke-width="0.7"/>
<text transform="translate(31.4,323.44) scale(1,1.1)" text-anchor="end" font-size="6.4">1000</text>
<line x1="33.1" y1="290.88" x2="35" y2="290.88" stroke="#444444" stroke-width="0.7"/>
<text transform="translate(31.4,293.68) scale(1,1.1)" text-anchor="end" font-size="6.4">2000</text>
<line x1="33.1" y1="261.12" x2="35" y2="261.12" stroke="#444444" stroke-width="0.7"/>
<text transform="translate(31.4,263.92) scale(1,1.1)" text-anchor="end" font-size="6.4">3000</text>
<line x1="33.1" y1="231.36" x2="35" y2="231.36" stroke="#444444" stroke-width="0.7"/>
<text transform="translate(31.4,234.16) scale(1,1.1)" text-anchor="end" font-size="6.4">4000</text>
<line x1="33.1" y1="201.6" x2="35" y2="201.6" stroke="#444444" stroke-width="0.7"/>
<text transform="translate(31.4,204.4) scale(1,1.1)" text-anchor="end" font-size="6.4">5000</text>
<line x1="285.5" y1="350.4" x2="287.1" y2="350.4" stroke="#444444" stroke-width="0.7"/>
<text transform="translate(288.9,353.2) scale(1,1.1)" font-size="6.4">0</text>
<line x1="285.5" y1="325.6" x2="287.1" y2="325.6" stroke="#444444" stroke-width="0.7"/>
<text transform="translate(288.9,328.4) scale(1,1.1)" font-size="6.4">5000</text>
<line x1="285.5" y1="300.8" x2="287.1" y2="300.8" stroke="#444444" stroke-width="0.7"/>
<text transform="translate(288.9,303.6) scale(1,1.1)" font-size="6.4">10000</text>
<line x1="285.5" y1="276" x2="287.1" y2="276" stroke="#444444" stroke-width="0.7"/>
<text transform="translate(288.9,278.8) scale(1,1.1)" font-size="6.4">15000</text>
<line x1="285.5" y1="251.2" x2="287.1" y2="251.2" stroke="#444444" stroke-width="0.7"/>
<text transform="translate(288.9,254) scale(1,1.1)" font-size="6.4">20000</text>
<line x1="285.5" y1="226.4" x2="287.1" y2="226.4" stroke="#444444" stroke-width="0.7"/>
<text transform="translate(288.9,229.2) scale(1,1.1)" font-size="6.4">25000</text>
<line x1="285.5" y1="201.6" x2="287.1" y2="201.6" stroke="#444444" stroke-width="0.7"/>
<text transform="translate(288.9,204.4) scale(1,1.1)" font-size="6.4">30000</text>
<text transform="translate(6.2,276.15) rotate(-90) scale(1,1.05)" class="lb" text-anchor="middle" font-size="8.95">U-PS(L,N,S) data under normal</text>
<text transform="translate(15.6,276.15) rotate(-90) scale(1,1.05)" class="lb" text-anchor="middle" font-size="8.95">conditions (unit: seconds)</text>
<text transform="translate(312.2,276.15) rotate(-90) scale(1,1.05)" class="lb" text-anchor="middle" font-size="8.95">U-PS(L,N,S) data under abnormal</text>
<text transform="translate(321.4,276.15) rotate(-90) scale(1,1.05)" class="lb" text-anchor="middle" font-size="8.95">conditions (unit: seconds)</text>
<text transform="translate(156,367.5) scale(1,1.1)" text-anchor="middle" font-size="7.2" class="lb">Sample ID</text>
<rect x="234.2" y="204.3" width="48.1" height="20.1" rx="1.2" fill="#fff" fill-opacity="0.8" stroke="#d8d8d8" stroke-width="0.6"/>
<line x1="236" y1="209.33" x2="249.5" y2="209.33" stroke="#2f78bd" stroke-width="1.3" stroke-opacity="0.55"/>
<line x1="236" y1="218.17" x2="249.5" y2="218.17" stroke="#0f7438" stroke-width="1.3" stroke-opacity="0.55"/>
<text transform="translate(254,211.23) scale(1,1.1)" font-size="6.2">Normal</text>
<text transform="translate(254,220.07) scale(1,1.1)" font-size="6.2">Abnormal</text>
<text transform="translate(45.8,222) scale(1,1.1)" font-size="16" font-weight="bold" style="fill:#150b0b">c</text>
<clipPath id="cd"><rect x="397.3" y="199.5" width="255" height="150.3"/></clipPath>
<polyline clip-path="url(#cd)" points="408.6,342.2 409,334.7 409.3,331 409.7,331.42 410.1,330 410.5,316 410.8,306.7 411.2,297.4 411.6,288 412,278.7 412.35,281.37 412.7,282.4 413.05,281.49 413.4,275 413.8,268.1 414.13,264.71 414.47,257.78 414.8,255 415.3,253.2 415.7,256.22 416.1,262.5 416.45,263.94 416.8,270 417.2,268.83 417.6,273.7 417.9,278.7 418.3,279.51 418.7,276.8 419.05,277.12 419.4,273.1 419.8,272.75 420.2,275 420.55,271.09 420.9,271.2 421.3,275.83 421.7,278.7 422.05,282.76 422.4,282.4 422.8,288.88 423.2,289.9 423.55,282.18 423.9,278.7 424.3,260.7 424.66,257.83 425.03,251.32 425.4,248.76 425.77,241.97 426.15,241.66 426.52,238.24 426.9,234.33 427.27,232.63 427.64,225.94 428.02,223.29 428.39,222.57 428.76,217.68 429.14,213.73 429.51,212.08 429.79,210.3 430.07,210.21 430.35,214.27 430.63,217.68 431.01,221.52 431.38,227.03 431.75,233.82 432.13,236.37 432.5,232.83 432.87,232.63 433.25,233.43 433.62,240.11 434,237.73 434.37,234.5 434.74,240.93 435.12,245.71 435.49,250.56 435.86,251.32 436.24,255.44 436.61,256.92 436.99,254.84 437.36,247.58 437.73,248.56 438.11,243.84 438.48,240.07 438.85,236.37 439.23,234.5 439.6,232.63 439.97,227.64 440.35,227.03 440.72,221.07 441.1,217.68 441.47,220.07 441.84,221.42 442.22,224.34 442.59,232.63 442.96,231.03 443.34,227.03 443.71,219.27 444.09,215.82 444.46,219.19 444.83,223.29 445.21,230.03 445.58,230.76 445.95,225.33 446.33,225.16 446.7,220.35 447.07,221.42 447.45,226.64 447.82,232.63 448.2,239.06 448.57,249.45 448.94,247.14 449.32,241.97 449.69,235.06 450.06,234.5 450.44,238.55 450.81,238.24 451.19,237.71 451.56,232.63 451.93,240.07 452.31,243.84 452.68,240.56 453.05,238.24 453.43,240.59 453.8,245.71 454.17,240.21 454.55,232.63 454.92,238.33 455.3,243.84 455.67,246.14 456.04,249.45 456.42,244.68 456.79,241.97 457.16,244.38 457.54,247.58 457.91,250.51 458.29,251.32 458.66,255.27 459.03,255.05 459.41,253.9 459.78,247.58 460.15,239.83 460.53,236.37 460.9,238.8 461.28,243.84 461.65,251.89 462.02,260.66 462.4,265.74 462.77,270 463.14,266.23 463.52,264.4 463.89,257.78 464.26,255.05 464.64,253.33 465.01,256.92 465.39,253.93 465.76,253.19 466.13,256.67 466.51,260.66 466.88,260.87 467.25,255.05 467.63,252.06 468,243.84 468.38,244.31 468.75,240.11 469.12,244.08 469.5,241.97 469.87,247.73 470.24,247.58 470.62,253.02 470.99,256.92 471.36,261.72 471.74,262.53 472.11,261.58 472.49,266.26 472.86,257.12 473.23,245.71 473.61,237.07 473.98,227.03 474.35,228.53 474.73,232.63 475.1,234.96 475.48,236.37 475.85,235.53 476.22,228.9 476.6,225.97 476.97,223.29 477.34,223.3 477.72,221.42 478.09,225.74 478.46,232.63 478.84,235.37 479.21,240.11 479.59,236.03 479.96,227.03 480.33,228.68 480.71,236.37 481.08,239.05 481.45,245.71 481.83,249.66 482.2,251.32 482.58,251.91 482.95,253.19 483.32,247.73 483.7,247.58 484.07,246.74 484.44,243.84 484.82,238.35 485.19,234.5 485.57,232.21 485.94,228.9 486.31,224.62 486.69,221.42 487.06,227.22 487.43,232.63 487.81,238.65 488.18,243.84 488.55,245.05 488.93,247.58 489.3,248.85 489.68,255.05 490.05,251.14 490.42,251.32 490.8,251.94 491.17,247.58 491.54,251.62 491.92,255.05 492.29,246.97 492.67,243.84 493.04,241.49 493.41,234.5 493.79,226.38 494.16,221.42 494.53,215.09 494.91,213.95 495.28,217.88 495.65,221.42 496.03,226.37 496.4,234.5 496.78,230.7 497.15,227.03 497.52,232.04 497.9,236.37 498.27,238.36 498.64,243.84 499.02,246.18 499.39,247.58 499.77,239.5 500.14,236.37 500.51,229.91 500.89,223.29 501.26,227.59 501.63,230.76 502.01,226.21 502.38,227.03 502.75,224.57 503.13,223.29 503.5,225.23 503.88,232.63 504.25,229.44 504.62,227.03 505,226.55 505.37,221.42 505.74,218.01 506.12,213.95 506.49,212.05 506.87,207.41 507.24,214.19 507.61,217.68 507.99,219.89 508.36,227.03 508.73,234.84 509.11,236.37 509.48,243.39 509.86,247.58 510.23,239.43 510.6,236.37 510.98,233.81 511.35,227.03 511.72,229.14 512.1,232.63 512.47,234.27 512.84,240.11 513.22,246.79 513.59,247.58 513.97,249.85 514.34,251.32 514.71,255.88 515.09,256.92 515.46,258.33 515.83,264.4 516.21,264.3 516.58,260.66 516.96,253.16 517.33,251.32 517.7,245.9 518.08,243.84 518.45,240.22 518.82,238.24 519.2,237.94 519.57,243.84 519.94,246.32 520.32,247.58 520.69,244.81 521.07,245.71 521.44,248.17 521.81,253.19 522.19,257.32 522.56,258.79 522.93,261.12 523.31,264.4 523.68,268.75 524.06,268.13 524.4,265.17 524.75,260.66 525.12,259.3 525.49,253.19 525.87,267.6 526.24,281.21 526.62,277.34 526.99,268.13 527.36,266.77 527.74,260.66 528.11,255.73 528.48,255.05 528.86,252.89 529.23,247.58 529.61,244.7 529.98,243.84 530.35,241.79 530.73,236.37 531.1,233.79 531.47,228.9 531.85,236.58 532.22,240.11 532.59,242.36 532.97,249.45 533.34,251.44 533.72,255.05 534.09,251.9 534.46,245.71 534.84,242.04 535.21,232.63 535.58,230.31 535.96,225.16 536.33,225.97 536.71,232.63 537.08,238.9 537.45,243.84 537.83,245.02 538.2,251.32 538.57,248.83 538.95,245.71 539.32,249.52 539.7,249.45 540.07,246.04 540.44,247.58 540.82,248.43 541.19,243.84 541.56,248.7 541.94,251.32 542.31,254.42 542.68,260.66 543.06,261.5 543.43,266.26 543.81,260.32 544.18,255.05 544.55,252.55 544.93,245.71 545.3,241.56 545.67,236.37 546.05,232.03 546.42,232.63 546.8,227.7 547.17,228.9 547.54,222.67 547.92,221.42 548.29,221.01 548.66,216.75 549.04,218.94 549.41,225.16 549.78,227.37 550.16,228.9 550.53,223.81 550.91,221.42 551.28,218.88 551.65,213.95 552.03,209.92 552.4,207.41 552.77,210.27 553.15,217.68 553.52,224.76 553.9,227.03 554.27,229.14 554.64,230.76 555.02,234.78 555.39,236.37 555.76,236.47 556.14,232.63 556.51,238.31 556.88,238.24 557.26,237.93 557.63,243.84 558.01,245.64 558.38,249.45 558.75,241.61 559.13,238.24 559.5,240.12 559.87,241.97 560.25,248.1 560.62,249.45 561,254.17 561.37,255.05 561.74,250.21 562.12,251.32 562.49,253.02 562.86,258.79 563.24,262.7 563.61,262.53 563.99,259.94 564.36,255.05 564.73,250.63 565.11,247.58 565.48,245.56 565.85,243.84 566.23,245.39 566.6,251.32 566.97,246.05 567.35,236.37 567.72,239.42 568.1,243.84 568.47,249.97 568.84,251.32 569.22,253.89 569.59,255.05 569.96,254.21 570.34,258.79 570.71,253.96 571.09,251.32 571.46,246.7 571.83,245.71 572.21,245.43 572.58,240.11 572.95,235.07 573.33,228.9 573.7,222.24 574.07,221.42 574.45,214.64 574.82,212.08 575.2,215.86 575.57,221.42 575.94,225.89 576.32,230.76 576.69,233.13 577.06,234.5 577.44,236.59 577.81,240.11 578.19,242.91 578.56,247.58 578.93,248.16 579.31,255.05 579.68,250.89 580.05,245.71 580.43,239.98 580.8,236.37 581.17,228.63 581.55,227.03 581.92,223.03 582.3,219.55 582.67,221.73 583.04,217.68 583.42,219.45 583.79,227.03 584.16,222.89 584.54,223.29 584.91,226.25 585.29,227.03 585.66,227.44 586.03,230.76 586.41,231.18 586.78,234.5 587.15,237.3 587.53,240.11 587.9,242.32 588.28,247.58 588.65,249.89 589.02,251.32 589.4,248.69 589.77,245.71 590.14,243.96 590.52,236.37 590.89,237.65 591.26,232.63 591.64,232.45 592.01,238.24 592.39,240.49 592.76,241.97 593.13,245.58 593.51,245.71 593.88,247.16 594.25,243.84 594.63,248.4 595,249.45 595.38,254.04 595.75,256.92 596.12,260.59 596.5,262.53 596.87,262.58 597.24,264.4 597.62,263.93 597.99,266.26 598.36,270.02 598.74,270 599.11,275.19 599.49,275.61 599.86,271.87 600.23,262.53 600.61,258.08 600.98,251.32 601.35,246.33 601.73,243.84 602.1,241.79 602.48,236.37 602.85,243.51 603.22,247.58 603.6,252.31 603.97,256.92 604.34,254.98 604.72,251.32 605.09,246.62 605.46,243.84 605.84,242.3 606.21,240.11 606.59,237.64 606.96,236.37 607.33,229.82 607.71,228.9 608.08,226.92 608.45,227.03 608.83,229.63 609.2,234.5 609.58,240.43 609.95,240.11 610.32,243.72 610.7,247.58 611.07,244.86 611.44,243.84 611.82,239.4 612.19,238.24 612.57,233.74 612.94,232.63 613.31,229.8 613.69,228.9 614.06,232.17 614.43,240.11 614.81,241.62 615.18,249.45 615.55,257.43 615.93,260.66 616.3,266.9 616.68,273.74 617.05,268.72 617.42,264.4 617.8,260.16 618.17,255.05 618.54,249.12 618.92,245.71 619.29,238.92 619.67,236.37 620.04,228.92 620.41,227.03 620.79,223.89 621.16,223.29 621.53,228.6 621.91,236.37 622.28,244.36 622.65,249.45 623.03,245.11 623.4,240.11 623.78,241.04 624.15,236.37 624.52,233.48 624.9,232.63 625.27,233.46 625.64,228.9 626.02,233.17 626.39,236.37 626.77,238.35 627.14,245.71 627.51,248.33 627.89,255.05 628.26,266.78 628.63,277.48 629.01,274.99 629.38,266.26 629.75,262.55 630.13,260.66 630.5,259.61 630.88,255.05 631.25,252.73 631.62,251.32 632,255.54 632.37,255.05 632.74,251.35 633.12,253.19 633.49,255.89 633.87,258.79 634.24,259.48 634.61,255.05 634.99,246.15 635.36,240.11 635.73,234.82 636.11,232.63 636.48,234.25 636.86,241.97 637.23,242.63 637.6,247.58 637.98,251.7 638.35,258.79 638.72,263.84 639.1,266.26 639.47,256.99 639.84,251.32 640.22,244.13 640.59,238.24" fill="none" stroke="#2f78bd" stroke-width="0.95" stroke-linejoin="round"/>
<polyline clip-path="url(#cd)" points="408.6,206.5 409,221.4 409.3,236.4 409.7,244.37 410.1,247.6 410.5,260.7 411,273.7 411.29,277.33 411.57,278.68 411.95,288.03 412.32,293.63 412.7,297.37 413.07,295.5 413.44,299.24 413.82,293.63 414.19,297.37 414.56,302.1 414.94,302.97 415.31,304.98 415.68,301.11 416.06,304.84 416.43,303.91 416.81,300.16 417.18,297.37 417.55,291.57 417.93,289.9 418.3,290.5 418.67,293.63 419.05,300.24 419.42,306.71 419.8,301.14 420.17,295.5 420.54,290.83 420.92,289.9 421.29,286.12 421.66,286.16 422.04,290.68 422.41,293.63 422.78,302.66 423.16,310.45 423.53,306.76 423.91,304.84 424.28,304.07 424.65,297.37 425.03,296.32 425.4,293.63 425.77,289.02 426.15,289.9 426.52,290.3 426.9,291.76 427.27,295.36 427.64,295.5 428.02,293.41 428.39,293.63 428.76,296.64 429.14,297.37 429.51,293.46 429.88,295.5 430.26,298.06 430.63,302.97 431.01,302.22 431.38,297.37 431.75,298.82 432.13,299.24 432.5,298.38 432.87,295.5 433.25,294.61 433.62,297.37 434,295.49 434.37,293.63 434.74,292.55 435.12,290.83 435.49,288.49 435.86,288.96 436.24,289.37 436.61,288.03 436.99,289.15 437.36,289.9 437.73,291.48 438.11,287.09 438.48,288.01 438.85,288.03 439.23,288.43 439.6,289.9 439.97,289.49 440.35,293.63 440.72,294.38 441.1,299.24 441.47,303.6 441.84,304.84 442.22,305.29 442.59,310.45 442.96,314.59 443.34,323.53 443.71,319.68 444.09,319.79 444.46,318.06 444.83,316.05 445.21,318.93 445.58,317.92 445.95,313.93 446.33,308.58 446.7,306.68 447.07,301.11 447.45,304.08 447.82,312.32 448.2,311.26 448.57,316.05 448.94,319.55 449.32,319.79 449.69,315.92 450.06,314.19 450.44,317.35 450.81,317.92 451.19,319.85 451.56,323.53 451.93,319.68 452.31,319.79 452.68,319.32 453.05,321.66 453.43,317.39 453.8,317.92 454.17,321.28 454.55,319.79 454.92,322.15 455.3,323.53 455.67,318.88 456.04,316.05 456.42,306.41 456.79,297.37 457.16,291.08 457.54,286.16 457.91,282.55 458.29,284.29 458.66,288.5 459.03,288.03 459.41,292.26 459.78,295.5 460.15,301.06 460.53,301.11 460.9,304.48 461.28,308.58 461.65,301.83 462.02,293.63 462.4,290.26 462.77,289.9 463.14,283.42 463.52,282.42 463.89,281.27 464.26,274.95 464.64,276.14 465.01,273.08 465.39,274.77 465.76,278.68 466.13,282.95 466.51,282.42 466.88,286.19 467.25,286.16 467.63,294.32 468,304.84 468.38,299.85 468.75,293.63 469.12,293.59 469.5,288.03 469.87,285.2 470.24,282.42 470.62,281.38 470.99,274.95 471.36,272.47 471.74,273.08 472.11,275.22 472.49,278.68 472.86,281.86 473.23,282.42 473.61,282.62 473.98,286.16 474.35,290.62 474.73,297.37 475.1,312.7 475.48,323.53 475.85,318.76 476.22,314.19 476.6,313.14 476.97,308.58 477.34,304.24 477.72,302.97 478.09,296.34 478.46,293.63 478.84,289.98 479.21,288.03 479.59,282.41 479.96,280.55 480.33,284.32 480.71,282.42 481.08,282.1 481.45,284.29 481.83,282.79 482.2,280.55 482.58,280.11 482.95,284.29 483.32,280.76 483.7,276.82 484.07,275.2 484.44,274.95 484.82,278.1 485.19,282.42 485.57,287.29 485.94,297.37 486.31,298.85 486.69,304.84 487.06,304.93 487.43,301.11 487.81,297.41 488.18,295.5 488.55,291.17 488.93,289.9 489.3,289.91 489.68,293.63 490.05,298.87 490.42,306.71 490.8,310.74 491.17,317.92 491.54,314.2 491.92,316.05 492.29,313.3 492.67,308.58 493.04,308.56 493.41,310.45 493.79,311.19 494.16,316.05 494.53,310.75 494.91,302.97 495.28,294.92 495.65,291.76 496.03,286.64 496.4,284.29 496.78,287.23 497.15,286.16 497.52,288.6 497.9,295.5 498.27,291.42 498.64,288.03 499.02,290.98 499.39,289.9 499.77,289.86 500.14,286.16 500.51,289.72 500.89,297.37 501.26,301.16 501.63,306.71 502.01,311.78 502.38,314.19 502.75,307.84 503.13,302.97 503.5,301.05 503.88,293.63 504.25,289.08 504.62,288.03 505,287.93 505.37,282.42 505.74,281.52 506.12,280.55 506.49,282.65 506.87,288.03 507.24,290.55 507.61,293.63 507.99,295.15 508.36,301.11 508.73,305.15 509.11,306.71 509.48,306.21 509.86,308.58 510.23,314.71 510.6,316.05 510.98,318.45 511.35,319.79 511.72,314.33 512.1,310.45 512.47,305.19 512.84,302.97 513.22,305.49 513.59,306.71 513.97,309.66 514.34,316.05 514.71,317.35 515.09,314.19 515.46,306.32 515.83,302.97 516.21,300.25 516.58,297.37 516.96,294.82 517.33,291.76 517.7,297.86 518.08,306.71 518.45,313.95 518.82,317.92 519.2,315.36 519.57,314.19 519.94,312.33 520.32,308.58 520.69,312.72 521.07,316.05 521.44,312.12 521.81,310.45 522.19,307.92 522.56,306.71 522.93,299.56 523.31,297.37 523.68,292.63 524.06,291.76 524.4,291.07 524.75,286.16 525.12,284.15 525.49,284.29 525.87,291.81 526.24,297.37 526.62,299.69 526.99,306.71 527.36,310.82 527.74,314.19 528.11,317.09 528.48,321.66 528.86,314.19 529.23,306.71 529.61,298.95 529.98,293.63 530.35,292.9 530.73,297.37 531.1,301.84 531.47,308.58 531.85,311.61 532.22,317.92 532.59,316.61 532.97,319.79 533.34,322.96 533.72,323.53 534.09,324.09 534.46,327.26 534.84,328.55 535.21,331 535.58,325.98 535.96,316.05 536.33,311.16 536.71,302.97 537.08,304.34 537.45,301.11 537.83,307.94 538.2,310.45 538.57,301.7 538.95,297.37 539.32,294.16 539.7,293.63 540.07,292.68 540.44,297.37 540.82,290.04 541.19,280.55 541.56,288.07 541.94,293.63 542.31,296.48 542.68,301.11 543.06,302.45 543.43,304.84 543.81,297.39 544.18,288.03 544.55,287.35 544.93,284.29 545.3,278.11 545.67,274.95 546.05,274.23 546.42,269.34 546.8,267.52 547.17,267.47 547.54,270.12 547.92,271.21 548.29,268.37 548.66,269.34 549.04,269.84 549.41,274.95 549.78,280.23 550.16,280.55 550.53,285.69 550.91,288.03 551.28,296.78 551.65,302.97 552.03,295.55 552.4,293.63 552.77,297.41 553.15,306.71 553.52,307.49 553.9,312.32 554.27,306.77 554.64,304.84 555.02,309.27 555.39,316.05 555.76,312.54 556.14,310.45 556.51,311.42 556.88,317.92 557.26,310.25 557.63,304.84 558.01,307.54 558.38,308.58 558.75,310.39 559.13,316.05 559.5,319.96 559.87,319.79 560.25,323.01 560.62,325.4 561,335.1 561.37,342.21 561.74,335.14 562.12,331 562.49,324.07 562.86,317.92 563.24,310.62 563.61,301.11 563.99,293.66 564.36,288.03 564.73,280.36 565.11,278.68 565.48,278.82 565.85,274.95 566.23,281.28 566.6,284.29 566.97,276.47 567.35,271.21 567.72,266.6 568.1,267.47 568.47,282.68 568.84,293.63 569.22,289.61 569.59,284.29 569.96,278.77 570.34,278.68 570.71,276.22 571.09,276.82 571.46,276.35 571.83,280.55 572.21,284.17 572.58,284.29 572.95,292.83 573.33,304.84 573.7,301.72 574.07,293.63 574.45,297 574.82,297.37 575.2,296.75 575.57,301.11 575.94,298.54 576.32,293.63 576.69,295.8 577.06,299.24 577.44,296.99 577.81,291.76 578.19,290.93 578.56,286.16 578.93,281.11 579.31,278.68 579.68,280.9 580.05,288.03 580.43,288.84 580.8,284.29 581.17,287.57 581.55,291.76 581.92,293.41 582.3,289.9 582.67,294.78 583.04,297.37 583.42,300.67 583.79,301.11 584.16,305.89 584.54,306.71 584.91,308.41 585.29,308.58 585.66,312.03 586.03,316.05 586.41,317.12 586.78,323.53 587.15,328.92 587.53,331.94 587.9,326.37 588.28,321.66 588.65,318.93 589.02,316.05 589.4,317.69 589.77,314.19 590.14,309.15 590.52,308.58 590.89,306.41 591.26,301.11 591.64,293.7 592.01,291.76 592.39,288.31 592.76,282.42 593.13,279.58 593.51,273.08 593.88,273.51 594.25,276.82 594.63,278.03 595,278.68 595.38,284.3 595.75,284.29 596.12,291.65 596.5,297.37 596.87,289.22 597.24,280.55 597.62,276.25 597.99,274.95 598.36,274.17 598.74,278.68 599.11,278.77 599.49,280.55 599.86,285.63 600.23,291.76 600.61,294.64 600.98,301.11 601.35,298.1 601.73,297.37 602.1,293.32 602.48,293.63 602.85,299.55 603.22,302.97 603.6,302.13 603.97,299.24 604.34,301.4 604.72,306.71 605.09,307.03 605.46,310.45 605.84,312.41 606.21,314.19 606.59,316.66 606.96,319.79 607.33,323.34 607.71,321.66 608.08,315.16 608.45,310.45 608.83,302.71 609.2,297.37 609.58,304.35 609.95,306.71 610.32,308.3 610.7,314.19 611.07,306.16 611.44,297.37 611.82,294.5 612.19,293.63 612.57,300.2 612.94,302.97 613.31,300.46 613.69,297.37 614.06,303.6 614.43,306.71 614.81,296.32 615.18,289.9 615.55,289.03 615.93,286.16 616.3,284.88 616.68,282.42 617.05,281.25 617.42,280.55 617.8,284.95 618.17,286.16 618.54,292.82 618.92,295.5 619.29,291.32 619.67,291.76 620.04,288.63 620.41,288.03 620.79,291.86 621.16,297.37 621.53,304.02 621.91,314.19 622.28,312.48 622.65,316.05 623.03,307.27 623.4,301.11 623.78,295.55 624.15,293.63 624.52,291.11 624.9,286.16 625.27,291.45 625.64,297.37 626.02,301.59 626.39,310.45 626.77,305.66 627.14,302.97 627.51,299.98 627.89,297.37 628.26,297.48 628.63,299.24 629.01,295.38 629.38,295.5 629.75,296.67 630.13,302.97 630.5,304.71 630.88,312.32 631.25,307.8 631.62,297.37 632,295.13 632.37,289.9 632.74,285.53 633.12,286.16 633.49,285.59 633.87,282.42 634.24,283.43 634.61,278.68 634.99,281.87 635.36,284.29 635.73,283.81 636.11,288.03 636.48,288.89 636.86,289.9 637.23,290.44 637.6,291.76 637.98,292.71 638.35,297.37 638.72,301.36 639.1,304.84 639.47,302.83 639.84,306.71 640.22,315.77 640.59,319.79" fill="none" stroke="#0f7438" stroke-width="0.95" stroke-linejoin="round"/>
<rect x="397.3" y="199.5" width="255" height="150.3" fill="none" stroke="#444444" stroke-width="0.8"/>
<line x1="408.5" y1="349.8" x2="408.5" y2="351.6" stroke="#444444" stroke-width="0.7"/>
<text transform="translate(408.5,357.8) scale(1,1.1)" text-anchor="middle" font-size="6.4">0</text>
<line x1="444.32" y1="349.8" x2="444.32" y2="351.6" stroke="#444444" stroke-width="0.7"/>
<text transform="translate(444.32,357.8) scale(1,1.1)" text-anchor="middle" font-size="6.4">100</text>
<line x1="480.14" y1="349.8" x2="480.14" y2="351.6" stroke="#444444" stroke-width="0.7"/>
<text transform="translate(480.14,357.8) scale(1,1.1)" text-anchor="middle" font-size="6.4">200</text>
<line x1="515.96" y1="349.8" x2="515.96" y2="351.6" stroke="#444444" stroke-width="0.7"/>
<text transform="translate(515.96,357.8) scale(1,1.1)" text-anchor="middle" font-size="6.4">300</text>
<line x1="551.78" y1="349.8" x2="551.78" y2="351.6" stroke="#444444" stroke-width="0.7"/>
<text transform="translate(551.78,357.8) scale(1,1.1)" text-anchor="middle" font-size="6.4">400</text>
<line x1="587.6" y1="349.8" x2="587.6" y2="351.6" stroke="#444444" stroke-width="0.7"/>
<text transform="translate(587.6,357.8) scale(1,1.1)" text-anchor="middle" font-size="6.4">500</text>
<line x1="623.42" y1="349.8" x2="623.42" y2="351.6" stroke="#444444" stroke-width="0.7"/>
<text transform="translate(623.42,357.8) scale(1,1.1)" text-anchor="middle" font-size="6.4">600</text>
<line x1="395.4" y1="328.5" x2="397.3" y2="328.5" stroke="#444444" stroke-width="0.7"/>
<text transform="translate(393.7,331.3) scale(1,1.1)" text-anchor="end" font-size="6.4">500</text>
<line x1="395.4" y1="301.25" x2="397.3" y2="301.25" stroke="#444444" stroke-width="0.7"/>
<text transform="translate(393.7,304.05) scale(1,1.1)" text-anchor="end" font-size="6.4">1000</text>
<line x1="395.4" y1="274" x2="397.3" y2="274" stroke="#444444" stroke-width="0.7"/>
<text transform="translate(393.7,276.8) scale(1,1.1)" text-anchor="end" font-size="6.4">1500</text>
<line x1="395.4" y1="246.75" x2="397.3" y2="246.75" stroke="#444444" stroke-width="0.7"/>
<text transform="translate(393.7,249.55) scale(1,1.1)" text-anchor="end" font-size="6.4">2000</text>
<line x1="395.4" y1="219.5" x2="397.3" y2="219.5" stroke="#444444" stroke-width="0.7"/>
<text transform="translate(393.7,222.3) scale(1,1.1)" text-anchor="end" font-size="6.4">2500</text>
<line x1="652.3" y1="347.7" x2="653.9" y2="347.7" stroke="#444444" stroke-width="0.7"/>
<text transform="translate(655.7,350.5) scale(1,1.1)" font-size="6.4">60</text>
<line x1="652.3" y1="330.52" x2="653.9" y2="330.52" stroke="#444444" stroke-width="0.7"/>
<text transform="translate(655.7,333.32) scale(1,1.1)" font-size="6.4">80</text>
<line x1="652.3" y1="313.34" x2="653.9" y2="313.34" stroke="#444444" stroke-width="0.7"/>
<text transform="translate(655.7,316.14) scale(1,1.1)" font-size="6.4">100</text>
<line x1="652.3" y1="296.16" x2="653.9" y2="296.16" stroke="#444444" stroke-width="0.7"/>
<text transform="translate(655.7,298.96) scale(1,1.1)" font-size="6.4">120</text>
<line x1="652.3" y1="278.98" x2="653.9" y2="278.98" stroke="#444444" stroke-width="0.7"/>
<text transform="translate(655.7,281.78) scale(1,1.1)" font-size="6.4">140</text>
<line x1="652.3" y1="261.8" x2="653.9" y2="261.8" stroke="#444444" stroke-width="0.7"/>
<text transform="translate(655.7,264.6) scale(1,1.1)" font-size="6.4">160</text>
<line x1="652.3" y1="244.62" x2="653.9" y2="244.62" stroke="#444444" stroke-width="0.7"/>
<text transform="translate(655.7,247.42) scale(1,1.1)" font-size="6.4">180</text>
<line x1="652.3" y1="227.44" x2="653.9" y2="227.44" stroke="#444444" stroke-width="0.7"/>
<text transform="translate(655.7,230.24) scale(1,1.1)" font-size="6.4">200</text>
<line x1="652.3" y1="210.26" x2="653.9" y2="210.26" stroke="#444444" stroke-width="0.7"/>
<text transform="translate(655.7,213.06) scale(1,1.1)" font-size="6.4">220</text>
<text transform="translate(367.7,274.85) rotate(-90) scale(1,1.05)" class="lb" text-anchor="middle" font-size="8.95">U-PE(L,N,S) data under normal</text>
<text transform="translate(377.5,274.85) rotate(-90) scale(1,1.05)" class="lb" text-anchor="middle" font-size="8.95">conditions (unit: seconds)</text>
<text transform="translate(673.8,274.85) rotate(-90) scale(1,1.05)" class="lb" text-anchor="middle" font-size="8.95">U-PE(L,N,S) data under abnormal</text>
<text transform="translate(683,274.85) rotate(-90) scale(1,1.05)" class="lb" text-anchor="middle" font-size="8.95">conditions (unit: seconds)</text>
<text transform="translate(520.6,367.1) scale(1,1.1)" text-anchor="middle" font-size="7.2" class="lb">Sample ID</text>
<rect x="600" y="201.9" width="48.7" height="19.7" rx="1.2" fill="#fff" fill-opacity="0.8" stroke="#d8d8d8" stroke-width="0.6"/>
<line x1="601.8" y1="206.82" x2="615.3" y2="206.82" stroke="#2f78bd" stroke-width="1.3" stroke-opacity="0.55"/>
<line x1="601.8" y1="215.49" x2="615.3" y2="215.49" stroke="#0f7438" stroke-width="1.3" stroke-opacity="0.55"/>
<text transform="translate(619.8,208.72) scale(1,1.1)" font-size="6.2">Normal</text>
<text transform="translate(619.8,217.39) scale(1,1.1)" font-size="6.2">Abnormal</text>
<text x="408.6" y="222.1" font-size="16" font-weight="bold" style="fill:#150b0b">d</text>
<clipPath id="ce"><rect x="214.5" y="390.5" width="248" height="148.9"/></clipPath>
<polyline clip-path="url(#ce)" points="225.65,450.39 225.98,453.32 226.32,455.99 226.65,448.71 226.99,444.79 227.33,442.85 227.66,442.55 228,440.41 228.33,440.31 228.78,464.95 229.23,458.23 229.68,453.75 230.13,460.47 230.57,471.67 231.02,476.15 231.32,477.63 231.62,477.54 231.92,482.87 232.22,481.7 232.51,484.81 232.81,485.11 233.11,476.3 233.41,471.1 233.71,467.19 234.16,455.99 234.49,455.15 234.83,451.51 235.16,453.43 235.5,458.23 235.84,454.86 236.17,453.75 236.51,456.58 236.84,462.71 237.18,467.09 237.52,467.19 237.85,460.09 238.19,458.23 238.52,462.46 238.86,464.95 239.2,462.77 239.53,455.99 239.87,457.44 240.2,462.71 240.54,464.46 240.88,467.19 241.21,473.54 241.55,476.15 241.88,479.14 242.22,480.63 242.56,480.93 242.89,482.87 243.23,483.31 243.56,489.59 243.9,491.46 244.24,494.06 244.57,495.45 244.91,498.54 245.24,496.55 245.58,491.83 245.91,487.16 246.25,485.11 246.59,478.92 246.92,473.91 247.26,470.38 247.59,464.95 247.93,464.7 248.27,460.47 248.6,465.12 248.94,471.67 249.27,476.53 249.61,482.87 249.95,486.73 250.28,489.59 250.62,493.42 250.95,491.83 251.29,492.09 251.63,496.3 251.96,500.44 252.3,498.54 252.63,495.42 252.97,489.59 253.31,484.29 253.64,480.63 253.98,478.33 254.31,473.91 254.65,476.18 254.99,480.63 255.32,474.52 255.66,473.91 255.99,472.19 256.33,467.19 256.67,460.82 257,455.99 257.34,455.04 257.67,453.75 258.01,455.97 258.34,458.23 258.68,465.28 259.02,467.19 259.35,463.24 259.69,455.99 260.02,456.31 260.36,462.71 260.7,467.78 261.03,471.67 261.37,465.83 261.7,460.47 262.04,463.59 262.38,467.19 262.71,473.84 263.05,476.15 263.38,471.12 263.72,467.19 264.06,459.18 264.39,451.51 264.73,460.73 265.06,464.95 265.4,471.28 265.74,478.39 266.07,476.09 266.41,473.91 266.74,470.62 267.08,467.19 267.42,467.03 267.75,462.71 268.09,466.04 268.42,467.19 268.76,465.37 269.1,460.47 269.43,465.44 269.77,471.67 270.1,472.09 270.44,478.39 270.77,478.42 271.11,476.15 271.45,479.85 271.78,482.87 272.12,487.95 272.45,489.59 272.79,492.43 273.13,491.83 273.46,490.5 273.8,494.06 274.13,493.4 274.47,496.3 274.81,494.72 275.14,498.54 275.48,502.82 275.81,503.02 276.15,502.71 276.49,507.5 276.82,498.15 277.16,494.06 277.49,486.73 277.83,476.15 278.17,468.72 278.5,460.47 278.84,449.78 279.17,444.79 279.51,444.83 279.85,442.55 280.18,446.7 280.52,448.15 280.85,444.12 281.19,440.31 281.53,434.1 281.86,433.59 282.2,428.1 282.53,420.16 282.87,414.03 283.2,408.96 283.54,406.36 283.88,402.69 284.21,413.49 284.55,417.92 284.88,425.54 285.22,429.12 285.56,434.86 285.89,435.83 286.23,440.28 286.56,449.27 286.9,451.57 287.24,455.99 287.57,461.71 287.91,467.19 288.24,469.63 288.58,478.39 288.92,484.87 289.25,485.11 289.59,487.02 289.92,491.83 290.26,488.06 290.6,487.35 290.93,479.43 291.27,473.91 291.6,466.74 291.94,462.71 292.28,462.77 292.61,458.23 292.95,463.07 293.28,467.19 293.62,471.74 293.96,476.15 294.29,476.76 294.63,478.39 294.96,471.04 295.3,469.43 295.63,470.42 295.97,473.91 296.31,472.9 296.64,467.19 296.98,462.4 297.31,453.75 297.65,457.15 297.99,455.99 298.32,453.32 298.66,453.75 298.99,454.08 299.33,458.23 299.48,464.95 299.78,465.82 300.08,472.65 300.38,476.15 300.67,477.58 300.97,480.4 301.27,482.87 301.57,483.54 301.87,484.9 302.17,485.11 302.47,484.62 302.76,487.78 303.06,486.23 303.36,477.96 303.66,476.22 303.96,467.19 304.26,463.07 304.56,455.36 304.85,453.75 305.15,454.06 305.45,456.95 305.75,458.23 306.09,449.25 306.42,441.43 306.76,449.13 307.09,455.99 307.43,460.46 307.77,467.19 308.1,471.34 308.44,478.39 308.77,487 309.11,491.83 309.45,480.41 309.78,471.67 310.23,455.99 310.68,442.55 311.01,446.14 311.35,447.03 311.69,445.61 312.02,440.31 312.36,438.1 312.69,434.71 313.03,442.82 313.37,451.51 313.7,455.41 314.04,453.75 314.37,459 314.71,464.95 315.04,471.85 315.38,473.91 315.72,477.8 316.05,487.35 316.39,483.56 316.72,480.63 317.06,478.16 317.4,473.91 317.73,467.66 318.07,467.19 318.4,468.39 318.74,464.95 319.08,471.17 319.41,482.87 319.75,486.84 320.08,489.59 320.42,485.3 320.76,485.11 321.09,492.85 321.43,495.18 321.76,486.06 322.1,476.15 322.44,473.59 322.77,467.19 323.11,471.66 323.44,476.15 323.78,471.66 324.12,464.95 324.45,468.31 324.79,469.43 325.12,473.72 325.46,480.63 325.8,472.06 326.13,467.19 326.47,465.99 326.8,460.47 327.14,452.04 327.47,448.15 327.81,455.87 328.15,458.23 328.48,460.83 328.82,467.19 329.15,462.4 329.49,462.71 329.83,456.76 330.16,455.99 330.5,463.41 330.83,467.19 331.17,475.67 331.51,478.39 331.84,481.2 332.18,485.11 332.51,488.36 332.85,489.59 333.19,489.15 333.52,491.83 333.86,488.82 334.19,480.63 334.53,477.34 334.87,471.67 335.2,464.98 335.54,462.71 335.87,454.27 336.21,451.51 336.55,453.88 336.88,453.75 337.22,449.7 337.55,451.51 337.89,459.26 338.23,462.71 338.56,465.87 338.9,471.67 339.23,467.72 339.57,467.19 339.9,471.07 340.24,473.91 340.58,467.15 340.91,462.71 341.25,456.38 341.58,449.27 341.92,444.26 342.26,443.67 342.59,450.23 342.93,451.51 343.26,458.23 343.6,467.19 343.94,474.97 344.27,478.39 344.61,480.64 344.94,487.35 345.28,484.78 345.62,478.39 345.95,469.14 346.29,453.75 346.62,444.1 346.96,435.83 347.3,423.33 347.63,416.8 347.97,424.43 348.3,433.59 348.64,444.57 348.98,453.75 349.31,447.5 349.65,444.79 349.98,441.73 350.32,438.07 350.66,441.07 350.99,449.27 351.33,445.69 351.66,442.55 352,439.53 352.33,433.59 352.67,436.51 353.01,440.31 353.34,436.98 353.68,431.35 354.01,431.13 354.35,435.83 354.69,442.42 355.02,444.79 355.36,434.54 355.69,429.12 356.03,435.18 356.37,435.83 356.7,434.53 357.04,426.88 357.37,435.29 357.71,438.07 358.05,434.88 358.38,431.35 358.72,441.21 359.05,453.75 359.39,446.06 359.73,440.31 360.06,435.2 360.4,426.88 360.73,431.33 361.07,435.83 361.41,425.15 361.74,408.96 362.08,418.67 362.41,433.59 362.75,430.14 363.09,426.88 363.42,438.16 363.76,444.79 364.09,437.58 364.43,429.12 364.76,432.74 365.1,435.83 365.44,430.96 365.77,431.35 366.11,435.77 366.44,444.79 366.78,438.85 367.12,435.83 367.45,440.59 367.79,440.31 368.12,439.16 368.46,433.59 368.8,437.45 369.13,444.79 369.47,444.15 369.8,438.07 370.14,437.32 370.48,442.55 370.81,447.66 371.15,451.51 371.48,456.74 371.82,455.99 372.16,456.11 372.49,458.23 372.83,454.36 373.16,444.79 373.5,435.72 373.84,424.64 374.17,426.24 374.51,433.59 374.84,437.01 375.18,442.55 375.52,448.95 375.85,455.99 376.19,459.97 376.52,467.19 376.86,472.1 377.19,473.91 377.53,466.25 377.87,462.71 378.2,455.59 378.54,444.79 378.87,439.02 379.21,435.83 379.55,426.36 379.88,422.4 380.22,418.3 380.55,413.44 380.69,406.72 381.02,403.01 381.36,404.48 381.7,411.53 382.03,417.92 382.37,425.36 382.7,429.12 383.04,436.45 383.38,442.55 383.71,441.19 384.05,440.31 384.38,439.57 384.72,444.79 385.05,443.76 385.39,442.55 385.73,443.33 386.06,449.27 386.4,455.81 386.73,460.47 387.07,453.64 387.41,451.51 387.74,454.25 388.08,455.99 388.41,459.53 388.75,464.95 389.09,460.79 389.42,458.23 389.76,450.32 390.09,440.31 390.43,433.68 390.77,431.35 391.1,432.6 391.44,438.07 391.77,446.5 392.11,449.27 392.45,454.91 392.78,462.71 393.12,470.5 393.45,473.91 393.79,480.78 394.13,482.87 394.46,480.5 394.8,478.39 395.13,473.9 395.47,473.91 395.81,474.67 396.14,480.63 396.48,480.81 396.81,476.15 397.15,477.06 397.48,482.87 397.82,478.36 398.16,473.91 398.49,476.38 398.83,478.39 399.16,474.82 399.5,476.15 399.84,479.3 400.17,482.87 400.51,482.96 400.84,487.35 401.18,486.45 401.52,485.11 401.85,488.51 402.19,491.83 402.52,493.21 402.86,496.3 403.2,496.61 403.53,500.78 403.87,502.41 404.2,505.26 404.54,505.6 404.88,509.74 405.21,500.64 405.55,496.3 405.88,485.68 406.22,478.39 406.56,469.57 406.89,455.99 407.23,445.92 407.56,435.83 408.01,426.88 408.46,419.04 408.91,418.37 409.35,406.72 409.58,404.93 410.03,422.4 410.47,435.83 410.92,444.79 411.26,452.89 411.59,455.99 411.93,450.65 412.27,451.51 412.6,453.23 412.94,449.27 413.27,455.92 413.61,462.71 413.95,460.09 414.28,453.75 414.62,444.12 414.95,433.59 415.29,440.4 415.63,444.79 415.96,449.78 416.3,458.23 416.63,464.31 416.97,467.19 417.31,467.21 417.64,471.67 417.98,472.4 418.31,476.15 418.65,477.62 418.99,485.11 419.32,488.9 419.66,494.06 419.99,487.46 420.33,480.63 420.67,470.34 421,462.71 421.34,458.49 421.67,449.27 422.01,441.01 422.34,438.07 422.68,440.82 423.02,442.55 423.35,444.21 423.69,449.27 424.02,454.36 424.36,458.23 424.7,461.17 425.03,460.47 425.37,465.18 425.7,467.19 426.04,466.63 426.38,471.67 426.71,473.4 427.05,478.39 427.38,482.38 427.72,485.11 428.06,485.96 428.39,480.63 428.73,476.57 429.06,478.39 429.4,481.38 429.74,482.87 430.07,486.33 430.41,487.35 430.74,490.48 431.08,489.59 431.42,493.05 431.75,498.54 432.09,497.17 432.42,491.83 432.76,484.86 433.1,478.39 433.43,473.24 433.77,462.71 434.1,457.34 434.44,458.23 434.77,465.53 435.11,467.19 435.45,471.11 435.78,476.15 436.12,477.79 436.45,480.63 436.79,482.47 437.13,489.59 437.46,490.19 437.8,494.06 438.13,494.44 438.47,491.83 438.81,490.73 439.14,487.35 439.48,488.47 439.81,494.06 440.15,494.19 440.49,496.3 440.82,490.64 441.16,489.59 441.49,488.77 441.83,491.83 442.17,486.67 442.5,485.11 442.84,475.07 443.17,467.19 443.51,472.48 443.85,471.67 444.18,478.21 444.52,478.39 444.85,484.73 445.19,487.35 445.53,490.58 445.86,494.06 446.2,496.29 446.53,498.54 446.87,493.61 447.2,485.11 447.54,484.36 447.88,478.39 448.21,476.64 448.55,471.67 448.88,473.66 449.22,473.91 449.56,467.5 449.89,464.95 450.23,462.39 450.56,458.23 450.9,453.72 451.24,444.79 451.57,442.15 451.91,435.83" fill="none" stroke="#2f78bd" stroke-width="0.95" stroke-linejoin="round"/>
<polyline clip-path="url(#ce)" points="225.4,539.29 225.77,537.42 226.14,538.19 226.51,537.54 226.87,535.98 227.24,536.66 227.61,534.14 227.98,534.61 228.35,533.77 228.71,531.24 229.08,531.38 229.45,530.57 229.82,527.7 230.19,529.28 230.55,526.78 230.92,525.85 231.29,524.03 231.66,520.34 232.02,520.35 232.39,521.25 232.76,519.43 233.13,522.46 233.5,522.19 233.86,521.03 234.23,521.27 234.6,521.51 234.97,524.95 235.34,522.19 235.7,522.19 236.07,520.97 236.44,519.43 236.81,522 237.17,521.27 237.54,520.5 237.91,518.51 238.28,520.83 238.65,519.43 239.01,516.78 239.38,516.67 239.75,514.53 240.12,513.91 240.49,513.17 240.85,510.23 241.22,509.05 241.59,506.55 241.96,507.98 242.32,510.23 242.69,513.78 243.06,515.75 243.43,516.87 243.8,519.43 244.16,518.4 244.53,521.27 244.9,522.27 245.27,524.03 245.64,521.11 246,522.19 246.37,521.36 246.74,519.43 247.11,519.62 247.47,521.27 247.84,522.16 248.21,523.11 248.58,521.7 248.95,519.43 249.31,519.74 249.68,522.19 250.05,522.95 250.42,524.03 250.78,522.81 251.15,525.87 251.52,525.9 251.89,522.19 252.26,520.63 252.62,518.51 252.99,521.11 253.36,519.43 253.73,518.85 254.1,522.19 254.46,524.07 254.83,524.95 255.2,525.01 255.57,523.11 255.93,521.44 256.3,521.27 256.67,518.56 257.04,519.43 257.41,516.54 257.77,516.67 258.14,514.18 258.51,514.83 258.88,517.38 259.25,517.59 259.61,514.86 259.98,515.75 260.35,515.75 260.72,512.99 261.08,513.11 261.45,513.91 261.82,515.92 262.19,517.59 262.56,519.36 262.92,520.35 263.29,521.51 263.66,522.19 264.03,520.58 264.4,517.59 264.76,517.12 265.13,515.75 265.5,514.09 265.87,513.91 266.23,514.51 266.6,512.99 266.97,513.76 267.34,516.67 267.71,518.52 268.07,518.51 268.44,521.05 268.81,521.27 269.18,523.4 269.55,523.11 269.91,521.35 270.28,521.27 270.65,521.55 271.02,519.43 271.38,522.91 271.75,522.19 272.12,522.9 272.49,524.03 272.86,521.67 273.22,521.27 273.59,522.29 273.96,523.11 274.33,525.97 274.7,524.95 275.06,521.49 275.43,521.27 275.8,518.19 276.17,519.43 276.53,518.86 276.9,518.51 277.27,520.11 277.64,520.35 278.01,523.39 278.37,524.03 278.74,524.34 279.11,525.87 279.48,527.1 279.85,524.03 280.21,521.91 280.58,522.19 280.95,521.94 281.32,519.43 281.68,516.7 282.05,517.59 282.42,514.59 282.79,515.75 283.16,516.44 283.52,520.35 283.89,519.33 284.26,522.19 284.63,522.65 285,523.11 285.36,522.43 285.73,521.27 286.1,518.95 286.47,519.43 286.83,520.44 287.2,517.59 287.57,516.08 287.94,515.75 288.31,512.83 288.67,512.99 289.04,512.03 289.41,513.91 289.78,514.04 290.14,512.07 290.51,515.3 290.88,514.83 291.25,512.42 291.62,512.99 291.98,512.3 292.35,515.75 292.72,516.05 293.09,513.91 293.46,511.86 293.82,512.07 294.19,515.57 294.56,514.83 294.93,513.91 295.29,512.99 295.66,514.05 296.03,513.91 296.4,512.31 296.77,512.07 297.13,512.47 297.5,510.23 297.87,512.82 298.24,515.75 298.61,514.51 298.97,514.83 299.34,517.98 299.71,517.59 300.08,515.4 300.44,516.67 300.81,518.16 301.18,517.59 301.55,516.6 301.92,519.43 302.28,519.61 302.65,518.51 303.02,519.46 303.39,521.27 303.76,524.25 304.12,524.03 304.49,521.63 304.86,523.11 305.23,524.31 305.59,524.95 305.96,525.01 306.33,525.87 306.7,525.87 307.07,522.19 307.43,525.52 307.8,524.95 308.17,526.42 308.54,526.78 308.91,523.73 309.27,523.11 309.64,520.18 310.01,519.43 310.38,515.62 310.74,513.91 311.11,512.24 311.48,511.15 311.85,512.27 312.22,515.75 312.58,515.36 312.95,517.59 313.32,516.89 313.69,513.91 314.06,515.46 314.42,515.75 314.79,512.1 315.16,510.23 315.53,511.95 315.89,509.31 316.26,507.61 316.63,508.39 317,510.08 317.37,511.15 317.73,511.02 318.1,513.91 318.47,517.35 318.84,517.59 319.21,521.05 319.57,521.27 319.94,522.08 320.31,524.95 320.68,527.43 321.04,527.7 321.41,528.67 321.78,526.78 322.15,524.45 322.52,524.03 322.88,522.37 323.25,522.19 323.62,521.2 323.99,520.35 324.35,521.15 324.72,518.51 325.09,517.48 325.46,519.43 325.83,519.31 326.19,517.59 326.56,517.1 326.93,515.75 327.3,514.62 327.67,513.91 328.03,512.42 328.4,510.23 328.77,512.84 329.14,512.07 329.5,508.95 329.87,508.39 330.24,511.46 330.61,511.15 330.98,509.62 331.34,509.31 331.71,512.38 332.08,512.99 332.45,515.51 332.82,514.83 333.18,512.05 333.55,512.07 333.92,515.05 334.29,514.83 334.65,518.39 335.02,517.59 335.39,515.78 335.76,515.75 336.13,512.74 336.49,513.91 336.86,509.44 337.23,508.39 337.6,507.72 337.97,502.87 338.35,499.8 338.74,501.04 339.1,501.93 339.47,499.2 339.84,496.74 340.21,497.36 340.57,497.02 340.94,494.6 341.31,492.37 341.68,493.68 342.05,494.52 342.41,498.28 342.78,498.62 343.15,497.36 343.52,495.09 343.89,496.44 344.25,497.11 344.62,499.2 344.99,502.88 345.36,502.87 345.72,506.59 346.09,508.39 346.46,512.83 346.83,513.91 347.2,517.86 347.56,517.59 347.93,514.61 348.3,515.75 348.67,515.96 349.04,518.51 349.4,520.25 349.77,519.43 350.14,517.5 350.51,513.91 350.87,510.04 351.24,510.23 351.61,512.09 351.98,513.91 352.35,514.57 352.71,517.59 353.08,518.2 353.45,519.43 353.82,519.53 354.19,523.11 354.55,520.07 354.92,521.27 355.29,522.51 355.66,519.43 356.02,518.16 356.39,518.51 356.76,519.71 357.13,517.59 357.5,515 357.86,515.75 358.23,514.31 358.6,512.99 358.97,512.77 359.34,515.75 359.7,516.35 360.07,517.59 360.44,514.34 360.81,513.91 361.17,516.57 361.54,517.59 361.91,515.58 362.28,516.67 362.65,518.64 363.01,518.51 363.38,518.05 363.75,517.59 364.12,514.96 364.49,515.75 364.85,514.19 365.22,513.91 365.59,514.81 365.96,515.75 366.32,515.29 366.69,511.15 367.06,511.87 367.43,513.91 367.8,513.58 368.16,515.75 368.53,518.73 368.9,517.59 369.27,520.19 369.64,519.43 370,518.61 370.37,515.75 370.74,515.67 371.11,517.59 371.47,517.55 371.84,520.35 372.21,520.23 372.58,522.19 372.95,517.99 373.31,517.59 373.68,514.66 374.05,515.75 374.42,514.87 374.78,513.91 375.15,514.89 375.52,516.67 375.89,518.3 376.26,519.43 376.62,520.66 376.99,523.11 377.36,520.03 377.73,521.27 378.1,519.34 378.46,515.75 378.83,514.58 379.2,512.07 379.57,513.18 379.93,513.91 380.3,515.96 380.67,517.59 381.04,517.51 381.41,515.75 381.77,516.95 382.14,513.91 382.51,514.18 382.88,511.15 383.25,513.03 383.61,512.99 383.98,513.93 384.35,515.75 384.72,516.79 385.08,519.43 385.45,517.69 385.82,516.67 386.19,517.37 386.56,513.91 386.92,515.25 387.29,517.59 387.66,514.33 388.03,512.07 388.4,510.76 388.76,510.23 389.13,510.5 389.5,513.91 389.87,517.48 390.23,516.67 390.6,515.41 390.97,518.51 391.34,516.68 391.71,513.91 392.07,513.95 392.44,510.23 392.81,508.23 393.18,508.39 393.55,510.72 393.91,512.07 394.28,511.99 394.65,512.99 395.02,512.31 395.38,513.91 395.75,513.5 396.12,515.75 396.49,514.98 396.86,517.59 397.22,519.56 397.59,518.51 397.96,520.68 398.33,520.35 398.7,520.77 399.06,517.59 399.43,514.69 399.8,515.75 400.17,515.22 400.53,512.99 400.9,511.3 401.27,511.15 401.64,513.17 402.01,513.91 402.37,515.96 402.74,517.59 403.11,518.62 403.48,521.27 403.85,524.72 404.21,524.03 404.58,522.75 404.95,525.87 405.32,527.87 405.68,527.7 406.05,529.72 406.42,528.62 406.79,529.13 407.16,529.54 407.52,529.03 407.89,527.7 408.26,528.96 408.63,525.87 409,523.78 409.36,524.03 409.73,523.22 410.1,521.27 410.47,520.5 410.83,517.59 411.2,516.14 411.57,515.75 411.94,515.3 412.31,512.99 412.67,512.06 413.04,512.07 413.41,514.03 413.78,515.75 414.14,518.09 414.51,519.43 414.88,521.59 415.25,522.19 415.62,520.02 415.98,519.43 416.35,519.54 416.72,518.51 417.09,519.62 417.46,520.35 417.82,520.51 418.19,523.11 418.56,524.98 418.93,525.87 419.29,525.29 419.66,526.78 420.03,529.5 420.4,528.62 420.77,528.05 421.13,527.7 421.5,527.76 421.87,525.87 422.24,524.58 422.61,523.11 422.97,522.08 423.34,521.27 423.71,519.12 424.08,519.43 424.44,516.93 424.81,517.59 425.18,520.85 425.55,520.35 425.92,521.85 426.28,523.11 426.65,523.67 427.02,524.03 427.39,522.31 427.76,520.35 428.12,520.35 428.49,517.59 428.86,515.06 429.23,514.83 429.59,512.47 429.96,512.99 430.33,513.49 430.7,511.15 431.07,512.36 431.43,513.91 431.8,513.61 432.17,512.07 432.54,511.67 432.91,508.39 433.27,508.75 433.64,505.63 434.01,506.33 434.38,503.79 434.74,500.87 435.11,501.96 435.48,501.89 435.85,502.87 436.22,506.18 436.58,506.55 436.95,508.87 437.32,508.39 437.69,507.19 438.06,509.31 438.42,506.87 438.79,507.47 439.16,506.84 439.53,508.39 439.89,504.81 440.26,504.71 440.63,502.24 441,501.04 441.37,500.53 441.73,497.36 442.1,498.37 442.47,499.2 442.84,500.83 443.21,502.87 443.57,502.9 443.94,506.55 444.31,507.01 444.68,508.39 445.04,511.5 445.41,510.23 445.78,512.93 446.15,513.91 446.52,515.53 446.88,517.59 447.25,518.41 447.62,519.43 447.99,519.36 448.35,516.67 448.72,516.43 449.09,513.91 449.46,511.45 449.83,512.07 450.19,514.7 450.56,515.75 450.93,517 451.3,519.43 451.67,520.35" fill="none" stroke="#0f7438" stroke-width="0.95" stroke-linejoin="round"/>
<rect x="214.5" y="390.5" width="248" height="148.9" fill="none" stroke="#444444" stroke-width="0.8"/>
<line x1="226" y1="539.4" x2="226" y2="541.2" stroke="#444444" stroke-width="0.7"/>
<text transform="translate(226,547.4) scale(1,1.1)" text-anchor="middle" font-size="6.4">0</text>
<line x1="260.73" y1="539.4" x2="260.73" y2="541.2" stroke="#444444" stroke-width="0.7"/>
<text transform="translate(260.73,547.4) scale(1,1.1)" text-anchor="middle" font-size="6.4">100</text>
<line x1="295.46" y1="539.4" x2="295.46" y2="541.2" stroke="#444444" stroke-width="0.7"/>
<text transform="translate(295.46,547.4) scale(1,1.1)" text-anchor="middle" font-size="6.4">200</text>
<line x1="330.19" y1="539.4" x2="330.19" y2="541.2" stroke="#444444" stroke-width="0.7"/>
<text transform="translate(330.19,547.4) scale(1,1.1)" text-anchor="middle" font-size="6.4">300</text>
<line x1="364.92" y1="539.4" x2="364.92" y2="541.2" stroke="#444444" stroke-width="0.7"/>
<text transform="translate(364.92,547.4) scale(1,1.1)" text-anchor="middle" font-size="6.4">400</text>
<line x1="399.65" y1="539.4" x2="399.65" y2="541.2" stroke="#444444" stroke-width="0.7"/>
<text transform="translate(399.65,547.4) scale(1,1.1)" text-anchor="middle" font-size="6.4">500</text>
<line x1="434.38" y1="539.4" x2="434.38" y2="541.2" stroke="#444444" stroke-width="0.7"/>
<text transform="translate(434.38,547.4) scale(1,1.1)" text-anchor="middle" font-size="6.4">600</text>
<line x1="212.6" y1="539" x2="214.5" y2="539" stroke="#444444" stroke-width="0.7"/>
<text transform="translate(210.9,541.8) scale(1,1.1)" text-anchor="end" font-size="6.4">0</text>
<line x1="212.6" y1="514.23" x2="214.5" y2="514.23" stroke="#444444" stroke-width="0.7"/>
<text transform="translate(210.9,517.03) scale(1,1.1)" text-anchor="end" font-size="6.4">10000</text>
<line x1="212.6" y1="489.46" x2="214.5" y2="489.46" stroke="#444444" stroke-width="0.7"/>
<text transform="translate(210.9,492.26) scale(1,1.1)" text-anchor="end" font-size="6.4">20000</text>
<line x1="212.6" y1="464.69" x2="214.5" y2="464.69" stroke="#444444" stroke-width="0.7"/>
<text transform="translate(210.9,467.49) scale(1,1.1)" text-anchor="end" font-size="6.4">30000</text>
<line x1="212.6" y1="439.92" x2="214.5" y2="439.92" stroke="#444444" stroke-width="0.7"/>
<text transform="translate(210.9,442.72) scale(1,1.1)" text-anchor="end" font-size="6.4">40000</text>
<line x1="212.6" y1="415.15" x2="214.5" y2="415.15" stroke="#444444" stroke-width="0.7"/>
<text transform="translate(210.9,417.95) scale(1,1.1)" text-anchor="end" font-size="6.4">50000</text>
<line x1="212.6" y1="390.38" x2="214.5" y2="390.38" stroke="#444444" stroke-width="0.7"/>
<text transform="translate(210.9,393.18) scale(1,1.1)" text-anchor="end" font-size="6.4">60000</text>
<line x1="462.5" y1="539" x2="464.1" y2="539" stroke="#444444" stroke-width="0.7"/>
<text transform="translate(465.9,541.8) scale(1,1.1)" font-size="6.4">0</text>
<line x1="462.5" y1="520.42" x2="464.1" y2="520.42" stroke="#444444" stroke-width="0.7"/>
<text transform="translate(465.9,523.22) scale(1,1.1)" font-size="6.4">2500</text>
<line x1="462.5" y1="501.85" x2="464.1" y2="501.85" stroke="#444444" stroke-width="0.7"/>
<text transform="translate(465.9,504.65) scale(1,1.1)" font-size="6.4">5000</text>
<line x1="462.5" y1="483.27" x2="464.1" y2="483.27" stroke="#444444" stroke-width="0.7"/>
<text transform="translate(465.9,486.07) scale(1,1.1)" font-size="6.4">7500</text>
<line x1="462.5" y1="464.7" x2="464.1" y2="464.7" stroke="#444444" stroke-width="0.7"/>
<text transform="translate(465.9,467.5) scale(1,1.1)" font-size="6.4">10000</text>
<line x1="462.5" y1="446.12" x2="464.1" y2="446.12" stroke="#444444" stroke-width="0.7"/>
<text transform="translate(465.9,448.93) scale(1,1.1)" font-size="6.4">12500</text>
<line x1="462.5" y1="427.55" x2="464.1" y2="427.55" stroke="#444444" stroke-width="0.7"/>
<text transform="translate(465.9,430.35) scale(1,1.1)" font-size="6.4">15000</text>
<line x1="462.5" y1="408.98" x2="464.1" y2="408.98" stroke="#444444" stroke-width="0.7"/>
<text transform="translate(465.9,411.78) scale(1,1.1)" font-size="6.4">17500</text>
<line x1="462.5" y1="390.4" x2="464.1" y2="390.4" stroke="#444444" stroke-width="0.7"/>
<text transform="translate(465.9,393.2) scale(1,1.1)" font-size="6.4">20000</text>
<text transform="translate(182.7,465.25) rotate(-90) scale(1,1.05)" class="lb" text-anchor="middle" font-size="8.95">U-PE(L,N,S) data under normal</text>
<text transform="translate(192.8,465.25) rotate(-90) scale(1,1.05)" class="lb" text-anchor="middle" font-size="8.95">conditions (unit: seconds)</text>
<text transform="translate(489.4,465.25) rotate(-90) scale(1,1.05)" class="lb" text-anchor="middle" font-size="8.95">U-PE(L,N,S) data under abnormal</text>
<text transform="translate(499,465.25) rotate(-90) scale(1,1.05)" class="lb" text-anchor="middle" font-size="8.95">conditions (unit: seconds)</text>
<text transform="translate(334.7,556.4) scale(1,1.1)" text-anchor="middle" font-size="7.2" class="lb">Sample ID</text>
<rect x="412" y="393.4" width="47" height="19.5" rx="1.2" fill="#fff" fill-opacity="0.8" stroke="#d8d8d8" stroke-width="0.6"/>
<line x1="413.8" y1="398.27" x2="427.3" y2="398.27" stroke="#2f78bd" stroke-width="1.3" stroke-opacity="0.55"/>
<line x1="413.8" y1="406.85" x2="427.3" y2="406.85" stroke="#0f7438" stroke-width="1.3" stroke-opacity="0.55"/>
<text transform="translate(431.8,400.17) scale(1,1.1)" font-size="6.2">Normal</text>
<text transform="translate(431.8,408.75) scale(1,1.1)" font-size="6.2">Abnormal</text>
<text transform="translate(225.2,410.9) scale(1,1.15)" font-size="16" font-weight="bold" style="fill:#150b0b">e</text>
</svg></body></html>
